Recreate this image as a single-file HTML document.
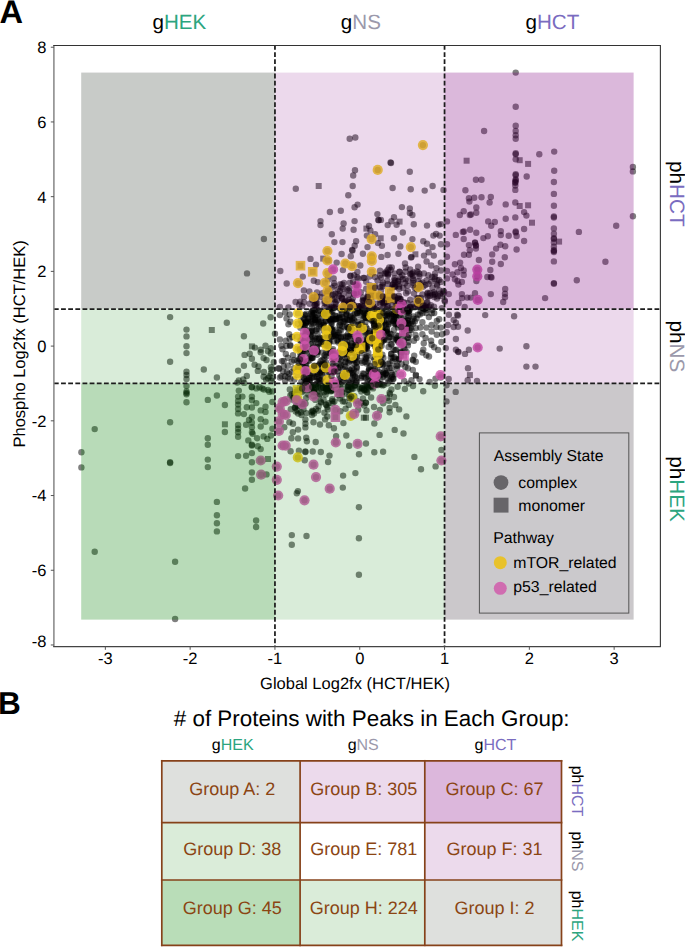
<!DOCTYPE html><html><head><meta charset="utf-8"><style>html,body{margin:0;padding:0;background:#fff;width:685px;height:947px;overflow:hidden}svg{display:block;font-family:"Liberation Sans",sans-serif;text-rendering:geometricPrecision}</style></head><body>
<svg width="685" height="947" viewBox="0 0 685 947">
<g fill="rgba(0,0,0,0.5)">
<circle cx="170.1" cy="317.1" r="3.2"/>
<circle cx="186.5" cy="329.6" r="3.2"/>
<circle cx="186.5" cy="336.4" r="3.2"/>
<circle cx="186.5" cy="346.3" r="3.2"/>
<circle cx="186.5" cy="353.1" r="3.2"/>
<circle cx="170.1" cy="361.7" r="3.2"/>
<circle cx="186.5" cy="371.7" r="3.2"/>
<circle cx="186.5" cy="375.0" r="3.2"/>
<circle cx="186.5" cy="379.0" r="3.2"/>
<circle cx="186.5" cy="386.0" r="3.2"/>
<circle cx="186.5" cy="391.5" r="3.2"/>
<circle cx="186.5" cy="393.0" r="3.2"/>
<circle cx="186.5" cy="394.3" r="3.2"/>
<circle cx="186.5" cy="402.2" r="3.2"/>
<circle cx="170.1" cy="422.3" r="3.2"/>
<circle cx="94.7" cy="429.1" r="3.2"/>
<circle cx="81.4" cy="452.3" r="3.2"/>
<circle cx="81.4" cy="467.4" r="3.2"/>
<circle cx="170.1" cy="462.2" r="3.2"/>
<circle cx="170.1" cy="463.0" r="3.2"/>
<circle cx="94.7" cy="551.8" r="3.2"/>
<circle cx="175.1" cy="561.7" r="3.2"/>
<circle cx="175.1" cy="619.0" r="3.2"/>
<circle cx="263.9" cy="239.0" r="3.2"/>
<circle cx="247.0" cy="273.4" r="3.2"/>
<circle cx="280.3" cy="271.0" r="3.2"/>
<circle cx="286.7" cy="283.5" r="3.2"/>
<circle cx="226.8" cy="322.7" r="3.2"/>
<circle cx="263.2" cy="323.5" r="3.2"/>
<circle cx="270.6" cy="317.2" r="3.2"/>
<circle cx="243.9" cy="336.2" r="3.2"/>
<circle cx="275.0" cy="333.7" r="3.2"/>
<circle cx="254.9" cy="347.6" r="3.2"/>
<circle cx="265.5" cy="345.7" r="3.2"/>
<circle cx="260.7" cy="349.7" r="3.2"/>
<circle cx="260.7" cy="352.2" r="3.2"/>
<circle cx="270.9" cy="348.3" r="3.2"/>
<circle cx="268.0" cy="351.2" r="3.2"/>
<circle cx="270.9" cy="353.4" r="3.2"/>
<circle cx="244.6" cy="354.9" r="3.2"/>
<circle cx="249.7" cy="353.7" r="3.2"/>
<circle cx="251.9" cy="358.8" r="3.2"/>
<circle cx="263.6" cy="358.1" r="3.2"/>
<circle cx="266.5" cy="360.0" r="3.2"/>
<circle cx="273.8" cy="362.2" r="3.2"/>
<circle cx="243.9" cy="365.8" r="3.2"/>
<circle cx="254.6" cy="364.8" r="3.2"/>
<circle cx="258.5" cy="366.5" r="3.2"/>
<circle cx="257.8" cy="370.9" r="3.2"/>
<circle cx="270.9" cy="367.3" r="3.2"/>
<circle cx="238.1" cy="370.6" r="3.2"/>
<circle cx="203.8" cy="369.5" r="3.2"/>
<circle cx="216.9" cy="377.5" r="3.2"/>
<circle cx="246.8" cy="376.0" r="3.2"/>
<circle cx="238.8" cy="380.4" r="3.2"/>
<circle cx="243.2" cy="379.4" r="3.2"/>
<circle cx="263.6" cy="376.8" r="3.2"/>
<circle cx="268.0" cy="378.2" r="3.2"/>
<circle cx="272.4" cy="378.2" r="3.2"/>
<circle cx="270.9" cy="373.1" r="3.2"/>
<circle cx="237.3" cy="382.6" r="3.2"/>
<circle cx="238.8" cy="390.6" r="3.2"/>
<circle cx="251.9" cy="387.0" r="3.2"/>
<circle cx="256.3" cy="388.4" r="3.2"/>
<circle cx="262.2" cy="388.4" r="3.2"/>
<circle cx="268.0" cy="389.9" r="3.2"/>
<circle cx="272.4" cy="391.4" r="3.2"/>
<circle cx="216.9" cy="395.5" r="3.2"/>
<circle cx="207.8" cy="399.9" r="3.2"/>
<circle cx="224.9" cy="405.0" r="3.2"/>
<circle cx="238.1" cy="396.6" r="3.2"/>
<circle cx="238.1" cy="401.0" r="3.2"/>
<circle cx="238.1" cy="404.6" r="3.2"/>
<circle cx="238.1" cy="409.0" r="3.2"/>
<circle cx="238.1" cy="413.4" r="3.2"/>
<circle cx="242.4" cy="396.6" r="3.2"/>
<circle cx="243.9" cy="414.1" r="3.2"/>
<circle cx="246.8" cy="407.2" r="3.2"/>
<circle cx="251.9" cy="396.6" r="3.2"/>
<circle cx="251.9" cy="400.2" r="3.2"/>
<circle cx="251.9" cy="407.5" r="3.2"/>
<circle cx="256.3" cy="403.1" r="3.2"/>
<circle cx="251.9" cy="417.0" r="3.2"/>
<circle cx="249.0" cy="419.9" r="3.2"/>
<circle cx="251.9" cy="422.8" r="3.2"/>
<circle cx="251.9" cy="427.2" r="3.2"/>
<circle cx="251.9" cy="432.3" r="3.2"/>
<circle cx="252.7" cy="433.8" r="3.2"/>
<circle cx="246.1" cy="424.7" r="3.2"/>
<circle cx="260.7" cy="410.4" r="3.2"/>
<circle cx="265.5" cy="406.8" r="3.2"/>
<circle cx="265.5" cy="411.9" r="3.2"/>
<circle cx="260.7" cy="419.2" r="3.2"/>
<circle cx="265.5" cy="421.8" r="3.2"/>
<circle cx="260.7" cy="426.5" r="3.2"/>
<circle cx="272.4" cy="402.0" r="3.2"/>
<circle cx="272.4" cy="428.7" r="3.2"/>
<circle cx="238.1" cy="425.0" r="3.2"/>
<circle cx="238.1" cy="428.7" r="3.2"/>
<circle cx="238.1" cy="432.3" r="3.2"/>
<circle cx="238.1" cy="436.7" r="3.2"/>
<circle cx="224.9" cy="432.0" r="3.2"/>
<circle cx="207.8" cy="438.2" r="3.2"/>
<circle cx="207.8" cy="444.7" r="3.2"/>
<circle cx="207.8" cy="459.6" r="3.2"/>
<circle cx="207.8" cy="467.1" r="3.2"/>
<circle cx="248.3" cy="440.4" r="3.2"/>
<circle cx="251.9" cy="444.7" r="3.2"/>
<circle cx="251.9" cy="445.5" r="3.2"/>
<circle cx="257.0" cy="438.2" r="3.2"/>
<circle cx="263.6" cy="436.4" r="3.2"/>
<circle cx="267.3" cy="438.9" r="3.2"/>
<circle cx="270.9" cy="435.5" r="3.2"/>
<circle cx="257.8" cy="446.2" r="3.2"/>
<circle cx="260.7" cy="449.1" r="3.2"/>
<circle cx="251.9" cy="453.1" r="3.2"/>
<circle cx="238.1" cy="456.1" r="3.2"/>
<circle cx="246.1" cy="455.7" r="3.2"/>
<circle cx="251.9" cy="462.3" r="3.2"/>
<circle cx="251.9" cy="472.5" r="3.2"/>
<circle cx="266.5" cy="474.4" r="3.2"/>
<circle cx="251.9" cy="479.8" r="3.2"/>
<circle cx="245.1" cy="488.5" r="3.2"/>
<circle cx="290.6" cy="451.3" r="3.2"/>
<circle cx="284.3" cy="427.2" r="3.2"/>
<circle cx="291.4" cy="438.2" r="3.2"/>
<circle cx="292.8" cy="432.3" r="3.2"/>
<circle cx="216.9" cy="501.9" r="3.2"/>
<circle cx="216.9" cy="515.2" r="3.2"/>
<circle cx="216.9" cy="523.3" r="3.2"/>
<circle cx="216.9" cy="531.4" r="3.2"/>
<circle cx="256.1" cy="520.5" r="3.2"/>
<circle cx="256.1" cy="527.0" r="3.2"/>
<circle cx="291.8" cy="535.1" r="3.2"/>
<circle cx="306.5" cy="536.0" r="3.2"/>
<circle cx="291.8" cy="544.8" r="3.2"/>
<circle cx="296.8" cy="493.3" r="3.2"/>
<circle cx="297.9" cy="491.1" r="3.2"/>
<circle cx="342.8" cy="487.6" r="3.2"/>
<circle cx="358.9" cy="507.2" r="3.2"/>
<circle cx="358.9" cy="538.3" r="3.2"/>
<circle cx="358.9" cy="574.8" r="3.2"/>
<circle cx="290.8" cy="409.2" r="3.2"/>
<circle cx="298.1" cy="413.6" r="3.2"/>
<circle cx="289.4" cy="422.3" r="3.2"/>
<circle cx="293.0" cy="423.8" r="3.2"/>
<circle cx="298.1" cy="429.6" r="3.2"/>
<circle cx="298.1" cy="438.4" r="3.2"/>
<circle cx="305.4" cy="419.4" r="3.2"/>
<circle cx="305.4" cy="423.8" r="3.2"/>
<circle cx="305.4" cy="427.4" r="3.2"/>
<circle cx="306.2" cy="437.7" r="3.2"/>
<circle cx="306.9" cy="441.3" r="3.2"/>
<circle cx="312.0" cy="415.0" r="3.2"/>
<circle cx="313.5" cy="422.3" r="3.2"/>
<circle cx="320.0" cy="424.5" r="3.2"/>
<circle cx="315.7" cy="442.0" r="3.2"/>
<circle cx="318.6" cy="406.3" r="3.2"/>
<circle cx="324.4" cy="412.8" r="3.2"/>
<circle cx="325.1" cy="419.4" r="3.2"/>
<circle cx="328.8" cy="425.3" r="3.2"/>
<circle cx="333.9" cy="428.2" r="3.2"/>
<circle cx="327.3" cy="416.5" r="3.2"/>
<circle cx="336.1" cy="436.2" r="3.2"/>
<circle cx="343.4" cy="423.1" r="3.2"/>
<circle cx="346.3" cy="435.5" r="3.2"/>
<circle cx="298.9" cy="450.8" r="3.2"/>
<circle cx="305.4" cy="451.5" r="3.2"/>
<circle cx="305.4" cy="452.0" r="3.2"/>
<circle cx="312.7" cy="451.5" r="3.2"/>
<circle cx="320.8" cy="452.0" r="3.2"/>
<circle cx="304.7" cy="460.3" r="3.2"/>
<circle cx="329.5" cy="455.6" r="3.2"/>
<circle cx="328.1" cy="462.0" r="3.2"/>
<circle cx="349.2" cy="445.7" r="3.2"/>
<circle cx="366.0" cy="443.5" r="3.2"/>
<circle cx="359.0" cy="454.2" r="3.2"/>
<circle cx="374.3" cy="452.3" r="3.2"/>
<circle cx="383.1" cy="451.8" r="3.2"/>
<circle cx="379.6" cy="434.9" r="3.2"/>
<circle cx="374.3" cy="423.5" r="3.2"/>
<circle cx="366.5" cy="410.4" r="3.2"/>
<circle cx="366.0" cy="402.6" r="3.2"/>
<circle cx="374.0" cy="407.0" r="3.2"/>
<circle cx="379.9" cy="409.9" r="3.2"/>
<circle cx="371.1" cy="397.5" r="3.2"/>
<circle cx="343.1" cy="475.6" r="3.2"/>
<circle cx="355.4" cy="473.1" r="3.2"/>
<circle cx="411.5" cy="380.2" r="3.2"/>
<circle cx="419.5" cy="379.1" r="3.2"/>
<circle cx="429.7" cy="382.0" r="3.2"/>
<circle cx="404.2" cy="381.0" r="3.2"/>
<circle cx="389.6" cy="381.0" r="3.2"/>
<circle cx="413.0" cy="386.1" r="3.2"/>
<circle cx="404.9" cy="389.0" r="3.2"/>
<circle cx="397.6" cy="386.8" r="3.2"/>
<circle cx="423.2" cy="391.2" r="3.2"/>
<circle cx="434.9" cy="385.8" r="3.2"/>
<circle cx="389.6" cy="392.6" r="3.2"/>
<circle cx="394.0" cy="397.0" r="3.2"/>
<circle cx="388.9" cy="400.7" r="3.2"/>
<circle cx="395.4" cy="405.0" r="3.2"/>
<circle cx="389.6" cy="408.0" r="3.2"/>
<circle cx="399.1" cy="409.4" r="3.2"/>
<circle cx="389.6" cy="412.3" r="3.2"/>
<circle cx="406.4" cy="416.4" r="3.2"/>
<circle cx="394.7" cy="429.9" r="3.2"/>
<circle cx="403.5" cy="433.5" r="3.2"/>
<circle cx="414.4" cy="456.9" r="3.2"/>
<circle cx="441.4" cy="450.0" r="3.2"/>
<circle cx="435.6" cy="466.4" r="3.2"/>
<circle cx="421.0" cy="469.3" r="3.2"/>
<circle cx="446.5" cy="401.4" r="3.2"/>
<circle cx="455.7" cy="391.9" r="3.2"/>
<circle cx="446.5" cy="385.3" r="3.2"/>
<circle cx="448.7" cy="379.0" r="3.2"/>
<circle cx="467.7" cy="380.2" r="3.2"/>
<circle cx="515.7" cy="72.6" r="3.2"/>
<circle cx="515.7" cy="106.8" r="3.2"/>
<circle cx="515.7" cy="125.7" r="3.2"/>
<circle cx="515.7" cy="131.0" r="3.2"/>
<circle cx="515.7" cy="135.3" r="3.2"/>
<circle cx="515.7" cy="138.8" r="3.2"/>
<circle cx="484.1" cy="131.0" r="3.2"/>
<circle cx="515.7" cy="153.2" r="3.2"/>
<circle cx="515.7" cy="154.2" r="3.2"/>
<circle cx="515.7" cy="159.3" r="3.2"/>
<circle cx="539.3" cy="154.3" r="3.2"/>
<circle cx="554.2" cy="151.6" r="3.2"/>
<circle cx="554.2" cy="170.7" r="3.2"/>
<circle cx="526.7" cy="176.5" r="3.2"/>
<circle cx="515.7" cy="174.3" r="3.2"/>
<circle cx="515.7" cy="175.3" r="3.2"/>
<circle cx="515.7" cy="179.5" r="3.2"/>
<circle cx="515.7" cy="180.5" r="3.2"/>
<circle cx="475.9" cy="179.7" r="3.2"/>
<circle cx="481.5" cy="179.7" r="3.2"/>
<circle cx="632.9" cy="166.9" r="3.2"/>
<circle cx="632.9" cy="171.4" r="3.2"/>
<circle cx="515.3" cy="182.0" r="3.2"/>
<circle cx="515.3" cy="182.8" r="3.2"/>
<circle cx="515.3" cy="185.5" r="3.2"/>
<circle cx="515.3" cy="189.9" r="3.2"/>
<circle cx="553.9" cy="182.0" r="3.2"/>
<circle cx="553.9" cy="193.9" r="3.2"/>
<circle cx="553.9" cy="205.7" r="3.2"/>
<circle cx="553.9" cy="216.5" r="3.2"/>
<circle cx="553.9" cy="217.5" r="3.2"/>
<circle cx="553.9" cy="228.4" r="3.2"/>
<circle cx="553.9" cy="233.7" r="3.2"/>
<circle cx="553.9" cy="238.1" r="3.2"/>
<circle cx="553.9" cy="238.9" r="3.2"/>
<circle cx="553.9" cy="242.4" r="3.2"/>
<circle cx="553.9" cy="246.8" r="3.2"/>
<circle cx="553.9" cy="250.3" r="3.2"/>
<circle cx="553.9" cy="251.0" r="3.2"/>
<circle cx="553.9" cy="252.1" r="3.2"/>
<circle cx="553.9" cy="261.4" r="3.2"/>
<circle cx="553.9" cy="283.1" r="3.2"/>
<circle cx="553.9" cy="283.8" r="3.2"/>
<circle cx="465.4" cy="190.2" r="3.2"/>
<circle cx="443.5" cy="189.9" r="3.2"/>
<circle cx="468.9" cy="198.3" r="3.2"/>
<circle cx="474.2" cy="197.8" r="3.2"/>
<circle cx="469.4" cy="201.6" r="3.2"/>
<circle cx="481.5" cy="197.2" r="3.2"/>
<circle cx="490.8" cy="196.9" r="3.2"/>
<circle cx="489.6" cy="202.5" r="3.2"/>
<circle cx="476.3" cy="207.4" r="3.2"/>
<circle cx="476.3" cy="212.7" r="3.2"/>
<circle cx="463.7" cy="211.3" r="3.2"/>
<circle cx="459.8" cy="215.0" r="3.2"/>
<circle cx="469.8" cy="215.0" r="3.2"/>
<circle cx="471.0" cy="214.5" r="3.2"/>
<circle cx="505.7" cy="204.4" r="3.2"/>
<circle cx="515.3" cy="202.5" r="3.2"/>
<circle cx="524.1" cy="212.1" r="3.2"/>
<circle cx="526.4" cy="215.6" r="3.2"/>
<circle cx="515.3" cy="217.4" r="3.2"/>
<circle cx="505.7" cy="218.8" r="3.2"/>
<circle cx="488.2" cy="221.4" r="3.2"/>
<circle cx="494.8" cy="222.0" r="3.2"/>
<circle cx="491.2" cy="225.8" r="3.2"/>
<circle cx="447.0" cy="221.4" r="3.2"/>
<circle cx="440.9" cy="224.1" r="3.2"/>
<circle cx="455.8" cy="234.9" r="3.2"/>
<circle cx="462.8" cy="231.9" r="3.2"/>
<circle cx="464.0" cy="231.5" r="3.2"/>
<circle cx="470.1" cy="229.7" r="3.2"/>
<circle cx="476.3" cy="232.8" r="3.2"/>
<circle cx="463.7" cy="239.0" r="3.2"/>
<circle cx="483.4" cy="238.1" r="3.2"/>
<circle cx="487.8" cy="236.3" r="3.2"/>
<circle cx="500.8" cy="231.1" r="3.2"/>
<circle cx="500.8" cy="235.1" r="3.2"/>
<circle cx="508.7" cy="235.8" r="3.2"/>
<circle cx="515.7" cy="231.4" r="3.2"/>
<circle cx="515.7" cy="232.4" r="3.2"/>
<circle cx="516.6" cy="236.0" r="3.2"/>
<circle cx="524.1" cy="229.0" r="3.2"/>
<circle cx="524.1" cy="241.0" r="3.2"/>
<circle cx="475.0" cy="242.4" r="3.2"/>
<circle cx="475.0" cy="243.0" r="3.2"/>
<circle cx="475.9" cy="245.1" r="3.2"/>
<circle cx="475.9" cy="245.8" r="3.2"/>
<circle cx="475.9" cy="248.6" r="3.2"/>
<circle cx="468.9" cy="245.1" r="3.2"/>
<circle cx="469.8" cy="250.3" r="3.2"/>
<circle cx="464.0" cy="254.7" r="3.2"/>
<circle cx="468.9" cy="254.7" r="3.2"/>
<circle cx="447.0" cy="244.2" r="3.2"/>
<circle cx="440.9" cy="244.2" r="3.2"/>
<circle cx="447.0" cy="256.8" r="3.2"/>
<circle cx="440.9" cy="262.6" r="3.2"/>
<circle cx="496.1" cy="248.6" r="3.2"/>
<circle cx="500.4" cy="244.7" r="3.2"/>
<circle cx="505.2" cy="246.3" r="3.2"/>
<circle cx="492.2" cy="254.4" r="3.2"/>
<circle cx="504.8" cy="257.3" r="3.2"/>
<circle cx="516.6" cy="249.5" r="3.2"/>
<circle cx="492.2" cy="261.7" r="3.2"/>
<circle cx="500.8" cy="264.0" r="3.2"/>
<circle cx="478.9" cy="260.0" r="3.2"/>
<circle cx="454.9" cy="264.3" r="3.2"/>
<circle cx="460.1" cy="262.6" r="3.2"/>
<circle cx="461.0" cy="267.9" r="3.2"/>
<circle cx="463.7" cy="270.5" r="3.2"/>
<circle cx="457.5" cy="272.2" r="3.2"/>
<circle cx="452.6" cy="274.5" r="3.2"/>
<circle cx="447.0" cy="271.0" r="3.2"/>
<circle cx="440.9" cy="270.5" r="3.2"/>
<circle cx="463.7" cy="274.9" r="3.2"/>
<circle cx="454.9" cy="279.2" r="3.2"/>
<circle cx="457.5" cy="281.0" r="3.2"/>
<circle cx="461.9" cy="281.9" r="3.2"/>
<circle cx="458.4" cy="284.5" r="3.2"/>
<circle cx="447.0" cy="278.4" r="3.2"/>
<circle cx="440.9" cy="281.9" r="3.2"/>
<circle cx="490.3" cy="270.0" r="3.2"/>
<circle cx="487.3" cy="277.0" r="3.2"/>
<circle cx="490.8" cy="277.0" r="3.2"/>
<circle cx="491.5" cy="277.5" r="3.2"/>
<circle cx="476.4" cy="281.0" r="3.2"/>
<circle cx="505.2" cy="288.9" r="3.2"/>
<circle cx="475.0" cy="293.3" r="3.2"/>
<circle cx="490.8" cy="294.1" r="3.2"/>
<circle cx="448.8" cy="294.1" r="3.2"/>
<circle cx="461.9" cy="294.1" r="3.2"/>
<circle cx="578.9" cy="231.9" r="3.2"/>
<circle cx="616.2" cy="225.8" r="3.2"/>
<circle cx="632.9" cy="216.3" r="3.2"/>
<circle cx="605.4" cy="261.7" r="3.2"/>
<circle cx="576.8" cy="280.3" r="3.2"/>
<circle cx="462.1" cy="298.1" r="3.2"/>
<circle cx="467.3" cy="297.6" r="3.2"/>
<circle cx="470.8" cy="297.6" r="3.2"/>
<circle cx="458.6" cy="303.0" r="3.2"/>
<circle cx="464.7" cy="306.9" r="3.2"/>
<circle cx="505.0" cy="293.8" r="3.2"/>
<circle cx="505.0" cy="297.3" r="3.2"/>
<circle cx="503.2" cy="302.0" r="3.2"/>
<circle cx="545.1" cy="298.1" r="3.2"/>
<circle cx="485.2" cy="315.1" r="3.2"/>
<circle cx="514.1" cy="316.2" r="3.2"/>
<circle cx="457.2" cy="314.8" r="3.2"/>
<circle cx="458.0" cy="315.5" r="3.2"/>
<circle cx="448.9" cy="314.8" r="3.2"/>
<circle cx="453.7" cy="320.0" r="3.2"/>
<circle cx="455.9" cy="322.7" r="3.2"/>
<circle cx="458.0" cy="326.7" r="3.2"/>
<circle cx="453.7" cy="327.0" r="3.2"/>
<circle cx="448.0" cy="325.0" r="3.2"/>
<circle cx="446.6" cy="332.3" r="3.2"/>
<circle cx="467.7" cy="330.5" r="3.2"/>
<circle cx="455.9" cy="339.0" r="3.2"/>
<circle cx="445.8" cy="348.1" r="3.2"/>
<circle cx="455.9" cy="349.8" r="3.2"/>
<circle cx="458.0" cy="351.6" r="3.2"/>
<circle cx="458.5" cy="352.0" r="3.2"/>
<circle cx="465.0" cy="353.9" r="3.2"/>
<circle cx="468.9" cy="349.8" r="3.2"/>
<circle cx="499.7" cy="348.6" r="3.2"/>
<circle cx="526.4" cy="346.3" r="3.2"/>
<circle cx="526.4" cy="366.6" r="3.2"/>
<circle cx="535.5" cy="366.6" r="3.2"/>
<circle cx="468.0" cy="368.2" r="3.2"/>
<circle cx="477.0" cy="381.0" r="3.2"/>
<circle cx="349.7" cy="138.7" r="3.2"/>
<circle cx="355.3" cy="137.5" r="3.2"/>
<circle cx="390.5" cy="162.5" r="3.2"/>
<circle cx="391.0" cy="163.0" r="3.2"/>
<circle cx="355.0" cy="170.3" r="3.2"/>
<circle cx="353.2" cy="175.5" r="3.2"/>
<circle cx="352.7" cy="186.0" r="3.2"/>
<circle cx="295.8" cy="188.7" r="3.2"/>
<circle cx="348.3" cy="195.3" r="3.2"/>
<circle cx="357.6" cy="204.6" r="3.2"/>
<circle cx="354.6" cy="207.2" r="3.2"/>
<circle cx="329.9" cy="212.0" r="3.2"/>
<circle cx="340.8" cy="210.7" r="3.2"/>
<circle cx="377.4" cy="214.1" r="3.2"/>
<circle cx="378.3" cy="219.9" r="3.2"/>
<circle cx="378.8" cy="220.3" r="3.2"/>
<circle cx="387.7" cy="225.1" r="3.2"/>
<circle cx="320.5" cy="221.1" r="3.2"/>
<circle cx="320.5" cy="225.1" r="3.2"/>
<circle cx="343.6" cy="223.4" r="3.2"/>
<circle cx="342.7" cy="228.6" r="3.2"/>
<circle cx="354.6" cy="221.1" r="3.2"/>
<circle cx="353.6" cy="229.8" r="3.2"/>
<circle cx="369.0" cy="226.0" r="3.2"/>
<circle cx="370.4" cy="230.4" r="3.2"/>
<circle cx="375.1" cy="234.2" r="3.2"/>
<circle cx="366.9" cy="235.6" r="3.2"/>
<circle cx="331.8" cy="234.2" r="3.2"/>
<circle cx="409.8" cy="171.7" r="3.2"/>
<circle cx="392.6" cy="188.0" r="3.2"/>
<circle cx="410.7" cy="189.2" r="3.2"/>
<circle cx="424.7" cy="190.6" r="3.2"/>
<circle cx="432.6" cy="186.0" r="3.2"/>
<circle cx="401.9" cy="207.1" r="3.2"/>
<circle cx="409.8" cy="208.5" r="3.2"/>
<circle cx="409.8" cy="212.9" r="3.2"/>
<circle cx="412.4" cy="215.0" r="3.2"/>
<circle cx="394.0" cy="217.2" r="3.2"/>
<circle cx="391.4" cy="221.3" r="3.2"/>
<circle cx="396.6" cy="224.8" r="3.2"/>
<circle cx="380.9" cy="219.9" r="3.2"/>
<circle cx="413.8" cy="224.2" r="3.2"/>
<circle cx="427.0" cy="225.6" r="3.2"/>
<circle cx="438.7" cy="224.6" r="3.2"/>
<circle cx="402.8" cy="232.5" r="3.2"/>
<circle cx="394.0" cy="238.3" r="3.2"/>
<circle cx="412.4" cy="239.1" r="3.2"/>
<circle cx="433.4" cy="235.6" r="3.2"/>
<circle cx="436.1" cy="233.9" r="3.2"/>
<circle cx="439.6" cy="235.6" r="3.2"/>
<circle cx="334.4" cy="242.1" r="3.2"/>
<circle cx="342.5" cy="242.1" r="3.2"/>
<circle cx="356.1" cy="241.2" r="3.2"/>
<circle cx="354.7" cy="245.8" r="3.2"/>
<circle cx="352.1" cy="250.0" r="3.2"/>
<circle cx="352.5" cy="250.5" r="3.2"/>
<circle cx="341.6" cy="254.0" r="3.2"/>
<circle cx="350.8" cy="256.3" r="3.2"/>
<circle cx="310.5" cy="258.9" r="3.2"/>
<circle cx="316.0" cy="264.6" r="3.2"/>
<circle cx="336.7" cy="262.6" r="3.2"/>
<circle cx="342.9" cy="270.1" r="3.2"/>
<circle cx="302.8" cy="276.6" r="3.2"/>
<circle cx="313.8" cy="280.8" r="3.2"/>
<circle cx="333.7" cy="278.4" r="3.2"/>
<circle cx="334.1" cy="283.2" r="3.2"/>
<circle cx="342.3" cy="284.5" r="3.2"/>
<circle cx="349.9" cy="282.6" r="3.2"/>
<circle cx="354.1" cy="275.3" r="3.2"/>
<circle cx="357.4" cy="272.0" r="3.2"/>
<circle cx="303.9" cy="290.4" r="3.2"/>
<circle cx="309.4" cy="291.5" r="3.2"/>
<circle cx="317.0" cy="292.4" r="3.2"/>
<circle cx="337.7" cy="289.5" r="3.2"/>
<circle cx="331.8" cy="287.8" r="3.2"/>
<circle cx="335.4" cy="293.7" r="3.2"/>
<circle cx="342.3" cy="298.3" r="3.2"/>
<circle cx="348.8" cy="295.0" r="3.2"/>
<circle cx="348.8" cy="299.6" r="3.2"/>
<circle cx="320.6" cy="297.0" r="3.2"/>
<circle cx="295.6" cy="302.0" r="3.2"/>
<circle cx="300.2" cy="301.6" r="3.2"/>
<circle cx="302.2" cy="306.2" r="3.2"/>
<circle cx="279.9" cy="306.9" r="3.2"/>
<circle cx="288.4" cy="307.5" r="3.2"/>
<circle cx="317.3" cy="302.9" r="3.2"/>
<circle cx="334.4" cy="299.6" r="3.2"/>
<circle cx="352.8" cy="298.3" r="3.2"/>
<circle cx="378.0" cy="243.1" r="3.2"/>
<circle cx="381.9" cy="245.8" r="3.2"/>
<circle cx="400.3" cy="246.4" r="3.2"/>
<circle cx="367.5" cy="247.1" r="3.2"/>
<circle cx="423.3" cy="241.2" r="3.2"/>
<circle cx="427.0" cy="243.8" r="3.2"/>
<circle cx="432.5" cy="247.1" r="3.2"/>
<circle cx="362.9" cy="253.7" r="3.2"/>
<circle cx="381.3" cy="256.9" r="3.2"/>
<circle cx="387.6" cy="255.0" r="3.2"/>
<circle cx="398.4" cy="253.7" r="3.2"/>
<circle cx="411.5" cy="256.9" r="3.2"/>
<circle cx="411.0" cy="257.5" r="3.2"/>
<circle cx="424.0" cy="255.6" r="3.2"/>
<circle cx="428.6" cy="252.3" r="3.2"/>
<circle cx="433.8" cy="255.6" r="3.2"/>
<circle cx="426.6" cy="261.5" r="3.2"/>
<circle cx="431.2" cy="265.5" r="3.2"/>
<circle cx="436.5" cy="268.1" r="3.2"/>
<circle cx="405.0" cy="263.5" r="3.2"/>
<circle cx="418.1" cy="266.8" r="3.2"/>
<circle cx="419.4" cy="274.0" r="3.2"/>
<circle cx="410.2" cy="269.4" r="3.2"/>
<circle cx="360.3" cy="265.5" r="3.2"/>
<circle cx="389.2" cy="267.4" r="3.2"/>
<circle cx="391.8" cy="267.4" r="3.2"/>
<circle cx="380.0" cy="270.7" r="3.2"/>
<circle cx="380.0" cy="275.3" r="3.2"/>
<circle cx="387.8" cy="275.3" r="3.2"/>
<circle cx="394.4" cy="273.4" r="3.2"/>
<circle cx="399.7" cy="272.0" r="3.2"/>
<circle cx="402.3" cy="275.3" r="3.2"/>
<circle cx="405.6" cy="279.3" r="3.2"/>
<circle cx="412.8" cy="278.6" r="3.2"/>
<circle cx="435.1" cy="273.4" r="3.2"/>
<circle cx="439.1" cy="279.9" r="3.2"/>
<circle cx="428.6" cy="283.9" r="3.2"/>
<circle cx="432.5" cy="287.8" r="3.2"/>
<circle cx="279.9" cy="315.1" r="3.2"/>
<circle cx="285.1" cy="312.5" r="3.2"/>
<circle cx="289.7" cy="314.5" r="3.2"/>
<circle cx="286.5" cy="318.4" r="3.2"/>
<circle cx="290.4" cy="321.7" r="3.2"/>
<circle cx="288.4" cy="324.3" r="3.2"/>
<circle cx="306.2" cy="313.8" r="3.2"/>
<circle cx="311.4" cy="313.8" r="3.2"/>
<circle cx="308.8" cy="318.4" r="3.2"/>
<circle cx="279.9" cy="339.4" r="3.2"/>
<circle cx="285.8" cy="340.7" r="3.2"/>
<circle cx="289.1" cy="334.2" r="3.2"/>
<circle cx="289.7" cy="338.8" r="3.2"/>
<circle cx="282.5" cy="349.3" r="3.2"/>
<circle cx="286.5" cy="346.0" r="3.2"/>
<circle cx="290.4" cy="345.3" r="3.2"/>
<circle cx="285.8" cy="353.9" r="3.2"/>
<circle cx="287.8" cy="357.8" r="3.2"/>
<circle cx="281.9" cy="361.1" r="3.2"/>
<circle cx="278.6" cy="368.3" r="3.2"/>
<circle cx="283.8" cy="366.4" r="3.2"/>
<circle cx="287.8" cy="365.7" r="3.2"/>
<circle cx="283.2" cy="371.6" r="3.2"/>
<circle cx="279.9" cy="377.5" r="3.2"/>
<circle cx="285.1" cy="376.2" r="3.2"/>
<circle cx="289.1" cy="373.6" r="3.2"/>
<circle cx="290.4" cy="378.8" r="3.2"/>
<circle cx="285.1" cy="380.8" r="3.2"/>
<circle cx="291.7" cy="361.8" r="3.2"/>
<circle cx="293.0" cy="355.2" r="3.2"/>
<circle cx="293.7" cy="368.3" r="3.2"/>
<circle cx="294.3" cy="379.5" r="3.2"/>
<circle cx="303.5" cy="317.7" r="3.2"/>
<circle cx="302.2" cy="323.7" r="3.2"/>
<circle cx="304.8" cy="325.6" r="3.2"/>
<circle cx="428.9" cy="317.1" r="3.2"/>
<circle cx="434.2" cy="313.1" r="3.2"/>
<circle cx="436.8" cy="321.0" r="3.2"/>
<circle cx="431.6" cy="325.0" r="3.2"/>
<circle cx="440.8" cy="327.6" r="3.2"/>
<circle cx="442.1" cy="334.2" r="3.2"/>
<circle cx="436.8" cy="334.8" r="3.2"/>
<circle cx="431.6" cy="331.5" r="3.2"/>
<circle cx="426.3" cy="327.6" r="3.2"/>
<circle cx="422.4" cy="322.3" r="3.2"/>
<circle cx="426.3" cy="313.1" r="3.2"/>
<circle cx="419.8" cy="314.5" r="3.2"/>
<circle cx="422.4" cy="334.2" r="3.2"/>
<circle cx="416.5" cy="338.1" r="3.2"/>
<circle cx="431.6" cy="344.7" r="3.2"/>
<circle cx="434.2" cy="347.3" r="3.2"/>
<circle cx="438.1" cy="349.9" r="3.2"/>
<circle cx="441.4" cy="342.0" r="3.2"/>
<circle cx="422.4" cy="352.6" r="3.2"/>
<circle cx="426.3" cy="355.2" r="3.2"/>
<circle cx="429.0" cy="356.5" r="3.2"/>
<circle cx="413.2" cy="360.4" r="3.2"/>
<circle cx="415.8" cy="361.8" r="3.2"/>
<circle cx="405.3" cy="367.0" r="3.2"/>
<circle cx="407.9" cy="368.3" r="3.2"/>
<circle cx="415.8" cy="374.9" r="3.2"/>
<circle cx="435.5" cy="378.8" r="3.2"/>
<circle cx="440.8" cy="377.5" r="3.2"/>
<circle cx="393.5" cy="378.8" r="3.2"/>
<circle cx="386.9" cy="374.9" r="3.2"/>
<circle cx="389.5" cy="368.3" r="3.2"/>
<circle cx="397.4" cy="365.7" r="3.2"/>
<circle cx="263.9" cy="372.0" r="3.2"/>
<circle cx="269.3" cy="376.3" r="3.2"/>
<circle cx="271.5" cy="369.8" r="3.2"/>
<circle cx="266.0" cy="379.6" r="3.2"/>
<circle cx="271.5" cy="380.7" r="3.2"/>
<circle cx="244.2" cy="382.9" r="3.2"/>
<circle cx="251.8" cy="387.3" r="3.2"/>
<circle cx="259.5" cy="387.3" r="3.2"/>
<circle cx="263.9" cy="389.5" r="3.2"/>
<circle cx="269.3" cy="391.7" r="3.2"/>
<circle cx="292.3" cy="336.9" r="3.2"/>
<circle cx="290.1" cy="345.7" r="3.2"/>
<circle cx="281.4" cy="345.7" r="3.2"/>
<circle cx="283.6" cy="361.0" r="3.2"/>
<circle cx="279.2" cy="368.7" r="3.2"/>
<circle cx="286.9" cy="372.0" r="3.2"/>
<circle cx="281.4" cy="376.3" r="3.2"/>
<circle cx="288.0" cy="377.4" r="3.2"/>
<circle cx="294.0" cy="360.0" r="3.2"/>
<circle cx="292.0" cy="372.0" r="3.2"/>
<circle cx="341.4" cy="309.9" r="3.2"/>
<circle cx="385.2" cy="302.2" r="3.2"/>
<circle cx="369.8" cy="331.2" r="3.2"/>
<circle cx="305.8" cy="345.2" r="3.2"/>
<circle cx="303.0" cy="337.9" r="3.2"/>
<circle cx="375.3" cy="334.3" r="3.2"/>
<circle cx="413.0" cy="323.7" r="3.2"/>
<circle cx="339.3" cy="375.8" r="3.2"/>
<circle cx="322.2" cy="352.6" r="3.2"/>
<circle cx="383.6" cy="331.9" r="3.2"/>
<circle cx="371.4" cy="301.2" r="3.2"/>
<circle cx="306.0" cy="315.4" r="3.2"/>
<circle cx="389.2" cy="337.3" r="3.2"/>
<circle cx="340.1" cy="353.0" r="3.2"/>
<circle cx="358.7" cy="324.7" r="3.2"/>
<circle cx="330.7" cy="351.9" r="3.2"/>
<circle cx="368.4" cy="381.6" r="3.2"/>
<circle cx="395.7" cy="323.5" r="3.2"/>
<circle cx="429.3" cy="306.7" r="3.2"/>
<circle cx="318.4" cy="343.4" r="3.2"/>
<circle cx="303.3" cy="361.2" r="3.2"/>
<circle cx="400.5" cy="351.7" r="3.2"/>
<circle cx="375.7" cy="340.2" r="3.2"/>
<circle cx="361.5" cy="360.8" r="3.2"/>
<circle cx="306.1" cy="364.4" r="3.2"/>
<circle cx="408.1" cy="323.2" r="3.2"/>
<circle cx="349.7" cy="361.2" r="3.2"/>
<circle cx="301.0" cy="340.7" r="3.2"/>
<circle cx="305.9" cy="371.1" r="3.2"/>
<circle cx="315.3" cy="319.5" r="3.2"/>
<circle cx="350.4" cy="381.3" r="3.2"/>
<circle cx="308.8" cy="339.5" r="3.2"/>
<circle cx="371.6" cy="382.5" r="3.2"/>
<circle cx="346.1" cy="382.5" r="3.2"/>
<circle cx="426.3" cy="309.9" r="3.2"/>
<circle cx="321.6" cy="318.0" r="3.2"/>
<circle cx="329.3" cy="343.0" r="3.2"/>
<circle cx="376.9" cy="321.0" r="3.2"/>
<circle cx="347.5" cy="351.1" r="3.2"/>
<circle cx="367.1" cy="356.1" r="3.2"/>
<circle cx="388.6" cy="300.3" r="3.2"/>
<circle cx="350.6" cy="334.5" r="3.2"/>
<circle cx="311.9" cy="357.8" r="3.2"/>
<circle cx="326.0" cy="311.1" r="3.2"/>
<circle cx="311.6" cy="331.0" r="3.2"/>
<circle cx="301.4" cy="381.6" r="3.2"/>
<circle cx="380.3" cy="309.7" r="3.2"/>
<circle cx="331.8" cy="329.4" r="3.2"/>
<circle cx="346.8" cy="307.2" r="3.2"/>
<circle cx="360.4" cy="342.9" r="3.2"/>
<circle cx="343.9" cy="321.2" r="3.2"/>
<circle cx="409.1" cy="311.0" r="3.2"/>
<circle cx="368.8" cy="309.5" r="3.2"/>
<circle cx="370.8" cy="297.7" r="3.2"/>
<circle cx="333.0" cy="331.3" r="3.2"/>
<circle cx="320.4" cy="371.4" r="3.2"/>
<circle cx="369.4" cy="372.1" r="3.2"/>
<circle cx="342.2" cy="317.1" r="3.2"/>
<circle cx="328.4" cy="346.2" r="3.2"/>
<circle cx="301.7" cy="322.7" r="3.2"/>
<circle cx="327.5" cy="317.5" r="3.2"/>
<circle cx="324.4" cy="315.2" r="3.2"/>
<circle cx="385.5" cy="374.2" r="3.2"/>
<circle cx="309.4" cy="360.4" r="3.2"/>
<circle cx="398.5" cy="342.3" r="3.2"/>
<circle cx="321.9" cy="373.1" r="3.2"/>
<circle cx="342.6" cy="374.3" r="3.2"/>
<circle cx="351.8" cy="388.7" r="3.2"/>
<circle cx="315.0" cy="310.0" r="3.2"/>
<circle cx="345.0" cy="349.3" r="3.2"/>
<circle cx="368.6" cy="387.4" r="3.2"/>
<circle cx="356.1" cy="381.3" r="3.2"/>
<circle cx="408.7" cy="315.9" r="3.2"/>
<circle cx="331.7" cy="324.0" r="3.2"/>
<circle cx="330.2" cy="353.1" r="3.2"/>
<circle cx="332.8" cy="336.5" r="3.2"/>
<circle cx="345.4" cy="340.4" r="3.2"/>
<circle cx="354.4" cy="385.9" r="3.2"/>
<circle cx="365.2" cy="347.7" r="3.2"/>
<circle cx="368.1" cy="296.9" r="3.2"/>
<circle cx="357.0" cy="313.1" r="3.2"/>
<circle cx="395.2" cy="350.1" r="3.2"/>
<circle cx="341.7" cy="346.3" r="3.2"/>
<circle cx="372.4" cy="372.6" r="3.2"/>
<circle cx="312.2" cy="350.5" r="3.2"/>
<circle cx="331.3" cy="322.4" r="3.2"/>
<circle cx="401.5" cy="345.3" r="3.2"/>
<circle cx="373.3" cy="370.2" r="3.2"/>
<circle cx="380.1" cy="345.0" r="3.2"/>
<circle cx="366.6" cy="363.6" r="3.2"/>
<circle cx="358.6" cy="347.8" r="3.2"/>
<circle cx="362.1" cy="388.2" r="3.2"/>
<circle cx="373.0" cy="388.4" r="3.2"/>
<circle cx="410.6" cy="308.6" r="3.2"/>
<circle cx="314.3" cy="338.8" r="3.2"/>
<circle cx="307.7" cy="318.8" r="3.2"/>
<circle cx="307.8" cy="361.3" r="3.2"/>
<circle cx="318.7" cy="365.9" r="3.2"/>
<circle cx="386.5" cy="309.2" r="3.2"/>
<circle cx="327.4" cy="389.3" r="3.2"/>
<circle cx="351.4" cy="343.2" r="3.2"/>
<circle cx="367.1" cy="328.6" r="3.2"/>
<circle cx="324.2" cy="326.5" r="3.2"/>
<circle cx="372.2" cy="338.6" r="3.2"/>
<circle cx="300.4" cy="327.8" r="3.2"/>
<circle cx="312.0" cy="321.3" r="3.2"/>
<circle cx="303.3" cy="372.1" r="3.2"/>
<circle cx="334.2" cy="307.8" r="3.2"/>
<circle cx="354.6" cy="385.2" r="3.2"/>
<circle cx="407.7" cy="320.6" r="3.2"/>
<circle cx="318.0" cy="386.0" r="3.2"/>
<circle cx="307.7" cy="387.9" r="3.2"/>
<circle cx="383.0" cy="374.4" r="3.2"/>
<circle cx="309.2" cy="379.8" r="3.2"/>
<circle cx="306.9" cy="380.4" r="3.2"/>
<circle cx="358.8" cy="328.6" r="3.2"/>
<circle cx="372.1" cy="386.7" r="3.2"/>
<circle cx="333.9" cy="307.8" r="3.2"/>
<circle cx="368.6" cy="318.6" r="3.2"/>
<circle cx="312.7" cy="311.0" r="3.2"/>
<circle cx="304.8" cy="315.0" r="3.2"/>
<circle cx="339.8" cy="325.2" r="3.2"/>
<circle cx="399.8" cy="323.7" r="3.2"/>
<circle cx="365.0" cy="312.6" r="3.2"/>
<circle cx="323.4" cy="342.0" r="3.2"/>
<circle cx="423.2" cy="305.5" r="3.2"/>
<circle cx="407.7" cy="337.8" r="3.2"/>
<circle cx="364.3" cy="377.6" r="3.2"/>
<circle cx="350.7" cy="345.2" r="3.2"/>
<circle cx="343.9" cy="377.4" r="3.2"/>
<circle cx="392.7" cy="358.0" r="3.2"/>
<circle cx="352.2" cy="329.4" r="3.2"/>
<circle cx="307.5" cy="368.3" r="3.2"/>
<circle cx="309.3" cy="378.3" r="3.2"/>
<circle cx="335.8" cy="319.0" r="3.2"/>
<circle cx="337.3" cy="340.5" r="3.2"/>
<circle cx="319.1" cy="339.1" r="3.2"/>
<circle cx="333.3" cy="390.2" r="3.2"/>
<circle cx="330.8" cy="390.6" r="3.2"/>
<circle cx="339.5" cy="330.3" r="3.2"/>
<circle cx="361.6" cy="344.8" r="3.2"/>
<circle cx="324.9" cy="345.0" r="3.2"/>
<circle cx="310.0" cy="334.6" r="3.2"/>
<circle cx="338.8" cy="318.0" r="3.2"/>
<circle cx="376.5" cy="347.4" r="3.2"/>
<circle cx="398.6" cy="360.1" r="3.2"/>
<circle cx="350.2" cy="327.3" r="3.2"/>
<circle cx="395.0" cy="358.7" r="3.2"/>
<circle cx="303.9" cy="377.7" r="3.2"/>
<circle cx="316.7" cy="346.9" r="3.2"/>
<circle cx="365.6" cy="377.7" r="3.2"/>
<circle cx="376.3" cy="383.4" r="3.2"/>
<circle cx="389.5" cy="363.6" r="3.2"/>
<circle cx="315.8" cy="330.7" r="3.2"/>
<circle cx="312.1" cy="377.7" r="3.2"/>
<circle cx="372.8" cy="357.1" r="3.2"/>
<circle cx="381.9" cy="362.4" r="3.2"/>
<circle cx="365.4" cy="348.0" r="3.2"/>
<circle cx="386.3" cy="301.5" r="3.2"/>
<circle cx="396.7" cy="320.0" r="3.2"/>
<circle cx="308.0" cy="321.3" r="3.2"/>
<circle cx="395.7" cy="315.3" r="3.2"/>
<circle cx="364.2" cy="332.9" r="3.2"/>
<circle cx="362.2" cy="362.7" r="3.2"/>
<circle cx="400.8" cy="356.1" r="3.2"/>
<circle cx="317.8" cy="320.1" r="3.2"/>
<circle cx="397.6" cy="325.1" r="3.2"/>
<circle cx="374.1" cy="296.2" r="3.2"/>
<circle cx="306.1" cy="321.6" r="3.2"/>
<circle cx="388.0" cy="363.5" r="3.2"/>
<circle cx="388.5" cy="323.8" r="3.2"/>
<circle cx="367.2" cy="341.0" r="3.2"/>
<circle cx="360.5" cy="306.7" r="3.2"/>
<circle cx="417.8" cy="314.7" r="3.2"/>
<circle cx="300.3" cy="340.4" r="3.2"/>
<circle cx="358.2" cy="321.6" r="3.2"/>
<circle cx="326.1" cy="388.6" r="3.2"/>
<circle cx="326.2" cy="352.6" r="3.2"/>
<circle cx="317.0" cy="346.9" r="3.2"/>
<circle cx="407.9" cy="345.4" r="3.2"/>
<circle cx="329.0" cy="383.9" r="3.2"/>
<circle cx="363.1" cy="297.5" r="3.2"/>
<circle cx="316.9" cy="329.1" r="3.2"/>
<circle cx="340.4" cy="378.2" r="3.2"/>
<circle cx="298.2" cy="369.3" r="3.2"/>
<circle cx="410.4" cy="306.9" r="3.2"/>
<circle cx="347.9" cy="333.9" r="3.2"/>
<circle cx="346.3" cy="337.4" r="3.2"/>
<circle cx="336.3" cy="387.6" r="3.2"/>
<circle cx="331.4" cy="321.3" r="3.2"/>
<circle cx="366.5" cy="313.8" r="3.2"/>
<circle cx="348.0" cy="389.7" r="3.2"/>
<circle cx="382.5" cy="385.4" r="3.2"/>
<circle cx="394.4" cy="299.9" r="3.2"/>
<circle cx="396.1" cy="339.6" r="3.2"/>
<circle cx="398.9" cy="358.8" r="3.2"/>
<circle cx="422.2" cy="307.6" r="3.2"/>
<circle cx="361.3" cy="329.0" r="3.2"/>
<circle cx="337.9" cy="368.2" r="3.2"/>
<circle cx="385.9" cy="324.8" r="3.2"/>
<circle cx="372.7" cy="334.0" r="3.2"/>
<circle cx="320.4" cy="311.0" r="3.2"/>
<circle cx="325.9" cy="384.7" r="3.2"/>
<circle cx="364.6" cy="316.8" r="3.2"/>
<circle cx="358.3" cy="308.8" r="3.2"/>
<circle cx="343.8" cy="304.0" r="3.2"/>
<circle cx="330.0" cy="320.6" r="3.2"/>
<circle cx="374.3" cy="382.8" r="3.2"/>
<circle cx="398.5" cy="335.9" r="3.2"/>
<circle cx="353.5" cy="346.9" r="3.2"/>
<circle cx="306.3" cy="322.5" r="3.2"/>
<circle cx="427.7" cy="307.5" r="3.2"/>
<circle cx="413.6" cy="316.4" r="3.2"/>
<circle cx="334.3" cy="319.6" r="3.2"/>
<circle cx="351.6" cy="339.1" r="3.2"/>
<circle cx="302.3" cy="365.2" r="3.2"/>
<circle cx="350.5" cy="386.8" r="3.2"/>
<circle cx="312.6" cy="310.3" r="3.2"/>
<circle cx="359.3" cy="349.6" r="3.2"/>
<circle cx="303.3" cy="372.4" r="3.2"/>
<circle cx="384.5" cy="325.1" r="3.2"/>
<circle cx="315.1" cy="319.9" r="3.2"/>
<circle cx="368.3" cy="352.7" r="3.2"/>
<circle cx="350.0" cy="317.1" r="3.2"/>
<circle cx="378.5" cy="296.0" r="3.2"/>
<circle cx="338.4" cy="340.6" r="3.2"/>
<circle cx="329.5" cy="319.5" r="3.2"/>
<circle cx="364.8" cy="361.8" r="3.2"/>
<circle cx="354.3" cy="320.5" r="3.2"/>
<circle cx="343.3" cy="336.6" r="3.2"/>
<circle cx="389.5" cy="314.6" r="3.2"/>
<circle cx="365.7" cy="315.3" r="3.2"/>
<circle cx="407.9" cy="317.9" r="3.2"/>
<circle cx="327.7" cy="370.3" r="3.2"/>
<circle cx="337.5" cy="389.2" r="3.2"/>
<circle cx="327.9" cy="336.3" r="3.2"/>
<circle cx="317.6" cy="334.0" r="3.2"/>
<circle cx="326.5" cy="391.4" r="3.2"/>
<circle cx="306.1" cy="333.9" r="3.2"/>
<circle cx="322.9" cy="387.7" r="3.2"/>
<circle cx="398.0" cy="298.2" r="3.2"/>
<circle cx="387.0" cy="332.5" r="3.2"/>
<circle cx="348.1" cy="327.8" r="3.2"/>
<circle cx="335.5" cy="329.8" r="3.2"/>
<circle cx="426.0" cy="307.2" r="3.2"/>
<circle cx="345.8" cy="376.3" r="3.2"/>
<circle cx="408.1" cy="337.8" r="3.2"/>
<circle cx="304.6" cy="341.9" r="3.2"/>
<circle cx="347.9" cy="386.0" r="3.2"/>
<circle cx="323.9" cy="331.1" r="3.2"/>
<circle cx="418.2" cy="298.0" r="3.2"/>
<circle cx="353.0" cy="375.4" r="3.2"/>
<circle cx="343.4" cy="322.0" r="3.2"/>
<circle cx="333.1" cy="365.9" r="3.2"/>
<circle cx="340.4" cy="322.3" r="3.2"/>
<circle cx="298.5" cy="369.8" r="3.2"/>
<circle cx="329.3" cy="342.0" r="3.2"/>
<circle cx="349.8" cy="319.9" r="3.2"/>
<circle cx="355.6" cy="343.9" r="3.2"/>
<circle cx="422.4" cy="313.1" r="3.2"/>
<circle cx="379.4" cy="327.5" r="3.2"/>
<circle cx="340.8" cy="330.8" r="3.2"/>
<circle cx="402.8" cy="302.8" r="3.2"/>
<circle cx="324.4" cy="369.5" r="3.2"/>
<circle cx="302.5" cy="349.7" r="3.2"/>
<circle cx="341.7" cy="392.0" r="3.2"/>
<circle cx="310.9" cy="344.3" r="3.2"/>
<circle cx="393.1" cy="339.2" r="3.2"/>
<circle cx="329.4" cy="336.3" r="3.2"/>
<circle cx="387.0" cy="307.0" r="3.2"/>
<circle cx="374.0" cy="331.9" r="3.2"/>
<circle cx="396.9" cy="314.7" r="3.2"/>
<circle cx="366.0" cy="317.9" r="3.2"/>
<circle cx="430.8" cy="305.1" r="3.2"/>
<circle cx="303.4" cy="324.1" r="3.2"/>
<circle cx="314.0" cy="313.8" r="3.2"/>
<circle cx="332.8" cy="372.0" r="3.2"/>
<circle cx="424.7" cy="305.5" r="3.2"/>
<circle cx="377.9" cy="356.4" r="3.2"/>
<circle cx="327.2" cy="331.5" r="3.2"/>
<circle cx="316.9" cy="315.2" r="3.2"/>
<circle cx="332.2" cy="354.3" r="3.2"/>
<circle cx="388.9" cy="313.3" r="3.2"/>
<circle cx="339.8" cy="315.1" r="3.2"/>
<circle cx="404.6" cy="349.3" r="3.2"/>
<circle cx="383.7" cy="304.0" r="3.2"/>
<circle cx="319.9" cy="363.8" r="3.2"/>
<circle cx="339.2" cy="389.4" r="3.2"/>
<circle cx="339.9" cy="351.1" r="3.2"/>
<circle cx="345.9" cy="336.2" r="3.2"/>
<circle cx="346.7" cy="314.5" r="3.2"/>
<circle cx="395.6" cy="315.2" r="3.2"/>
<circle cx="354.8" cy="376.2" r="3.2"/>
<circle cx="352.4" cy="382.4" r="3.2"/>
<circle cx="359.8" cy="311.1" r="3.2"/>
<circle cx="300.0" cy="349.6" r="3.2"/>
<circle cx="383.8" cy="385.1" r="3.2"/>
<circle cx="309.9" cy="356.6" r="3.2"/>
<circle cx="347.7" cy="344.9" r="3.2"/>
<circle cx="317.5" cy="323.0" r="3.2"/>
<circle cx="312.6" cy="343.6" r="3.2"/>
<circle cx="324.4" cy="307.5" r="3.2"/>
<circle cx="362.7" cy="300.3" r="3.2"/>
<circle cx="408.5" cy="310.9" r="3.2"/>
<circle cx="403.3" cy="317.0" r="3.2"/>
<circle cx="352.2" cy="378.8" r="3.2"/>
<circle cx="409.1" cy="313.1" r="3.2"/>
<circle cx="327.2" cy="334.6" r="3.2"/>
<circle cx="367.4" cy="333.0" r="3.2"/>
<circle cx="314.5" cy="319.5" r="3.2"/>
<circle cx="303.5" cy="350.7" r="3.2"/>
<circle cx="399.5" cy="298.8" r="3.2"/>
<circle cx="410.3" cy="306.7" r="3.2"/>
<circle cx="382.0" cy="325.3" r="3.2"/>
<circle cx="354.3" cy="352.7" r="3.2"/>
<circle cx="355.0" cy="360.2" r="3.2"/>
<circle cx="357.9" cy="338.4" r="3.2"/>
<circle cx="301.1" cy="356.3" r="3.2"/>
<circle cx="363.6" cy="318.3" r="3.2"/>
<circle cx="359.4" cy="312.8" r="3.2"/>
<circle cx="361.4" cy="305.6" r="3.2"/>
<circle cx="315.2" cy="337.6" r="3.2"/>
<circle cx="310.3" cy="338.8" r="3.2"/>
<circle cx="366.4" cy="299.0" r="3.2"/>
<circle cx="383.3" cy="303.1" r="3.2"/>
<circle cx="366.5" cy="300.4" r="3.2"/>
<circle cx="365.5" cy="332.4" r="3.2"/>
<circle cx="425.4" cy="308.5" r="3.2"/>
<circle cx="324.0" cy="392.2" r="3.2"/>
<circle cx="363.9" cy="389.7" r="3.2"/>
<circle cx="420.7" cy="311.3" r="3.2"/>
<circle cx="306.8" cy="329.7" r="3.2"/>
<circle cx="399.3" cy="310.7" r="3.2"/>
<circle cx="365.3" cy="386.1" r="3.2"/>
<circle cx="325.9" cy="321.0" r="3.2"/>
<circle cx="365.8" cy="326.6" r="3.2"/>
<circle cx="319.6" cy="387.7" r="3.2"/>
<circle cx="320.6" cy="372.7" r="3.2"/>
<circle cx="313.4" cy="347.5" r="3.2"/>
<circle cx="383.3" cy="330.6" r="3.2"/>
<circle cx="375.7" cy="382.4" r="3.2"/>
<circle cx="382.4" cy="334.0" r="3.2"/>
<circle cx="404.9" cy="321.2" r="3.2"/>
<circle cx="346.3" cy="370.7" r="3.2"/>
<circle cx="357.3" cy="312.5" r="3.2"/>
<circle cx="397.6" cy="299.8" r="3.2"/>
<circle cx="407.9" cy="320.1" r="3.2"/>
<circle cx="376.5" cy="360.7" r="3.2"/>
<circle cx="380.6" cy="337.8" r="3.2"/>
<circle cx="366.7" cy="383.7" r="3.2"/>
<circle cx="315.7" cy="317.5" r="3.2"/>
<circle cx="385.5" cy="297.2" r="3.2"/>
<circle cx="312.3" cy="330.4" r="3.2"/>
<circle cx="328.1" cy="352.8" r="3.2"/>
<circle cx="376.9" cy="315.2" r="3.2"/>
<circle cx="381.6" cy="342.0" r="3.2"/>
<circle cx="316.1" cy="387.7" r="3.2"/>
<circle cx="330.6" cy="309.8" r="3.2"/>
<circle cx="310.8" cy="358.2" r="3.2"/>
<circle cx="351.9" cy="321.2" r="3.2"/>
<circle cx="299.5" cy="358.8" r="3.2"/>
<circle cx="373.4" cy="329.7" r="3.2"/>
<circle cx="384.5" cy="338.9" r="3.2"/>
<circle cx="331.3" cy="384.4" r="3.2"/>
<circle cx="303.9" cy="347.6" r="3.2"/>
<circle cx="352.4" cy="318.5" r="3.2"/>
<circle cx="305.8" cy="372.1" r="3.2"/>
<circle cx="299.7" cy="349.5" r="3.2"/>
<circle cx="424.1" cy="309.1" r="3.2"/>
<circle cx="324.7" cy="355.2" r="3.2"/>
<circle cx="365.9" cy="358.5" r="3.2"/>
<circle cx="407.0" cy="312.3" r="3.2"/>
<circle cx="397.9" cy="341.1" r="3.2"/>
<circle cx="397.4" cy="339.8" r="3.2"/>
<circle cx="343.0" cy="369.2" r="3.2"/>
<circle cx="391.1" cy="378.7" r="3.2"/>
<circle cx="393.4" cy="321.3" r="3.2"/>
<circle cx="403.7" cy="346.8" r="3.2"/>
<circle cx="333.5" cy="358.6" r="3.2"/>
<circle cx="332.9" cy="318.4" r="3.2"/>
<circle cx="398.0" cy="327.4" r="3.2"/>
<circle cx="330.0" cy="384.8" r="3.2"/>
<circle cx="382.5" cy="363.6" r="3.2"/>
<circle cx="360.9" cy="378.1" r="3.2"/>
<circle cx="356.6" cy="366.7" r="3.2"/>
<circle cx="326.4" cy="356.6" r="3.2"/>
<circle cx="308.4" cy="385.2" r="3.2"/>
<circle cx="344.2" cy="309.0" r="3.2"/>
<circle cx="390.8" cy="357.8" r="3.2"/>
<circle cx="306.8" cy="353.5" r="3.2"/>
<circle cx="346.7" cy="375.9" r="3.2"/>
<circle cx="306.8" cy="380.9" r="3.2"/>
<circle cx="312.4" cy="315.4" r="3.2"/>
<circle cx="383.0" cy="376.7" r="3.2"/>
<circle cx="382.6" cy="323.4" r="3.2"/>
<circle cx="399.5" cy="315.3" r="3.2"/>
<circle cx="340.8" cy="337.0" r="3.2"/>
<circle cx="300.8" cy="320.4" r="3.2"/>
<circle cx="335.9" cy="365.9" r="3.2"/>
<circle cx="347.3" cy="326.8" r="3.2"/>
<circle cx="302.2" cy="335.9" r="3.2"/>
<circle cx="356.5" cy="371.5" r="3.2"/>
<circle cx="370.1" cy="316.4" r="3.2"/>
<circle cx="413.5" cy="304.0" r="3.2"/>
<circle cx="407.9" cy="311.9" r="3.2"/>
<circle cx="363.9" cy="373.9" r="3.2"/>
<circle cx="322.7" cy="344.0" r="3.2"/>
<circle cx="344.5" cy="377.4" r="3.2"/>
<circle cx="332.9" cy="388.4" r="3.2"/>
<circle cx="336.0" cy="316.3" r="3.2"/>
<circle cx="391.7" cy="344.3" r="3.2"/>
<circle cx="312.7" cy="358.0" r="3.2"/>
<circle cx="308.8" cy="373.0" r="3.2"/>
<circle cx="391.4" cy="372.9" r="3.2"/>
<circle cx="382.1" cy="330.2" r="3.2"/>
<circle cx="351.8" cy="334.1" r="3.2"/>
<circle cx="417.3" cy="303.5" r="3.2"/>
<circle cx="325.6" cy="321.1" r="3.2"/>
<circle cx="348.8" cy="382.5" r="3.2"/>
<circle cx="329.3" cy="340.6" r="3.2"/>
<circle cx="369.2" cy="369.7" r="3.2"/>
<circle cx="398.9" cy="359.0" r="3.2"/>
<circle cx="344.7" cy="327.3" r="3.2"/>
<circle cx="318.8" cy="378.5" r="3.2"/>
<circle cx="320.7" cy="338.4" r="3.2"/>
<circle cx="401.6" cy="352.3" r="3.2"/>
<circle cx="314.9" cy="340.7" r="3.2"/>
<circle cx="416.6" cy="318.6" r="3.2"/>
<circle cx="323.7" cy="324.8" r="3.2"/>
<circle cx="318.7" cy="310.4" r="3.2"/>
<circle cx="331.2" cy="327.3" r="3.2"/>
<circle cx="368.0" cy="310.9" r="3.2"/>
<circle cx="311.6" cy="390.3" r="3.2"/>
<circle cx="311.6" cy="333.0" r="3.2"/>
<circle cx="396.3" cy="338.1" r="3.2"/>
<circle cx="324.3" cy="358.2" r="3.2"/>
<circle cx="312.3" cy="315.4" r="3.2"/>
<circle cx="351.5" cy="373.3" r="3.2"/>
<circle cx="390.9" cy="344.5" r="3.2"/>
<circle cx="382.7" cy="340.9" r="3.2"/>
<circle cx="317.0" cy="354.8" r="3.2"/>
<circle cx="352.2" cy="368.4" r="3.2"/>
<circle cx="354.4" cy="317.6" r="3.2"/>
<circle cx="339.9" cy="357.2" r="3.2"/>
<circle cx="311.1" cy="336.5" r="3.2"/>
<circle cx="382.4" cy="319.8" r="3.2"/>
<circle cx="354.8" cy="340.1" r="3.2"/>
<circle cx="381.3" cy="335.5" r="3.2"/>
<circle cx="322.5" cy="359.8" r="3.2"/>
<circle cx="402.3" cy="333.5" r="3.2"/>
<circle cx="303.1" cy="348.8" r="3.2"/>
<circle cx="319.6" cy="372.4" r="3.2"/>
<circle cx="311.5" cy="351.9" r="3.2"/>
<circle cx="370.5" cy="366.0" r="3.2"/>
<circle cx="366.6" cy="358.3" r="3.2"/>
<circle cx="353.0" cy="388.8" r="3.2"/>
<circle cx="326.2" cy="362.8" r="3.2"/>
<circle cx="350.6" cy="370.5" r="3.2"/>
<circle cx="314.4" cy="392.5" r="3.2"/>
<circle cx="345.6" cy="300.6" r="3.2"/>
<circle cx="354.4" cy="364.1" r="3.2"/>
<circle cx="345.2" cy="321.3" r="3.2"/>
<circle cx="328.1" cy="368.4" r="3.2"/>
<circle cx="327.3" cy="374.3" r="3.2"/>
<circle cx="350.5" cy="316.0" r="3.2"/>
<circle cx="315.3" cy="371.9" r="3.2"/>
<circle cx="360.9" cy="350.6" r="3.2"/>
<circle cx="328.3" cy="390.4" r="3.2"/>
<circle cx="345.3" cy="358.2" r="3.2"/>
<circle cx="360.7" cy="324.1" r="3.2"/>
<circle cx="371.5" cy="307.4" r="3.2"/>
<circle cx="409.7" cy="330.1" r="3.2"/>
<circle cx="412.0" cy="321.5" r="3.2"/>
<circle cx="348.4" cy="320.1" r="3.2"/>
<circle cx="298.4" cy="366.5" r="3.2"/>
<circle cx="335.7" cy="319.3" r="3.2"/>
<circle cx="338.4" cy="342.5" r="3.2"/>
<circle cx="355.4" cy="358.1" r="3.2"/>
<circle cx="386.3" cy="330.9" r="3.2"/>
<circle cx="305.6" cy="377.0" r="3.2"/>
<circle cx="316.8" cy="377.3" r="3.2"/>
<circle cx="385.9" cy="319.8" r="3.2"/>
<circle cx="329.3" cy="371.9" r="3.2"/>
<circle cx="344.4" cy="310.1" r="3.2"/>
<circle cx="320.5" cy="383.2" r="3.2"/>
<circle cx="379.5" cy="372.3" r="3.2"/>
<circle cx="387.6" cy="383.5" r="3.2"/>
<circle cx="324.4" cy="363.6" r="3.2"/>
<circle cx="369.1" cy="368.4" r="3.2"/>
<circle cx="356.8" cy="382.4" r="3.2"/>
<circle cx="329.4" cy="308.8" r="3.2"/>
<circle cx="364.1" cy="300.8" r="3.2"/>
<circle cx="363.8" cy="344.3" r="3.2"/>
<circle cx="370.3" cy="380.4" r="3.2"/>
<circle cx="360.7" cy="350.7" r="3.2"/>
<circle cx="387.2" cy="378.2" r="3.2"/>
<circle cx="348.2" cy="336.5" r="3.2"/>
<circle cx="426.7" cy="302.5" r="3.2"/>
<circle cx="383.4" cy="358.0" r="3.2"/>
<circle cx="301.8" cy="355.4" r="3.2"/>
<circle cx="342.3" cy="392.2" r="3.2"/>
<circle cx="366.4" cy="343.0" r="3.2"/>
<circle cx="418.3" cy="298.4" r="3.2"/>
<circle cx="394.2" cy="356.9" r="3.2"/>
<circle cx="343.4" cy="380.3" r="3.2"/>
<circle cx="347.1" cy="342.0" r="3.2"/>
<circle cx="368.4" cy="371.3" r="3.2"/>
<circle cx="326.2" cy="338.1" r="3.2"/>
<circle cx="354.6" cy="349.8" r="3.2"/>
<circle cx="408.8" cy="324.0" r="3.2"/>
<circle cx="342.3" cy="326.4" r="3.2"/>
<circle cx="338.1" cy="353.1" r="3.2"/>
<circle cx="383.1" cy="372.6" r="3.2"/>
<circle cx="303.4" cy="366.5" r="3.2"/>
<circle cx="304.7" cy="324.7" r="3.2"/>
<circle cx="386.2" cy="373.1" r="3.2"/>
<circle cx="380.6" cy="357.1" r="3.2"/>
<circle cx="391.3" cy="354.0" r="3.2"/>
<circle cx="389.3" cy="316.0" r="3.2"/>
<circle cx="387.4" cy="340.3" r="3.2"/>
<circle cx="400.2" cy="305.0" r="3.2"/>
<circle cx="385.9" cy="331.5" r="3.2"/>
<circle cx="373.3" cy="320.5" r="3.2"/>
<circle cx="338.5" cy="336.8" r="3.2"/>
<circle cx="340.7" cy="337.6" r="3.2"/>
<circle cx="305.3" cy="351.2" r="3.2"/>
<circle cx="406.6" cy="352.0" r="3.2"/>
<circle cx="353.3" cy="305.1" r="3.2"/>
<circle cx="384.4" cy="316.0" r="3.2"/>
<circle cx="314.3" cy="390.7" r="3.2"/>
<circle cx="309.8" cy="381.1" r="3.2"/>
<circle cx="394.4" cy="319.0" r="3.2"/>
<circle cx="396.3" cy="313.6" r="3.2"/>
<circle cx="304.7" cy="371.6" r="3.2"/>
<circle cx="395.8" cy="303.3" r="3.2"/>
<circle cx="382.2" cy="365.2" r="3.2"/>
<circle cx="359.7" cy="387.3" r="3.2"/>
<circle cx="332.0" cy="390.5" r="3.2"/>
<circle cx="407.5" cy="302.9" r="3.2"/>
<circle cx="339.7" cy="367.2" r="3.2"/>
<circle cx="347.3" cy="351.9" r="3.2"/>
<circle cx="356.8" cy="362.0" r="3.2"/>
<circle cx="317.4" cy="373.9" r="3.2"/>
<circle cx="382.4" cy="336.4" r="3.2"/>
<circle cx="349.7" cy="372.8" r="3.2"/>
<circle cx="392.2" cy="376.9" r="3.2"/>
<circle cx="342.5" cy="355.0" r="3.2"/>
<circle cx="355.4" cy="382.9" r="3.2"/>
<circle cx="348.5" cy="362.8" r="3.2"/>
<circle cx="378.6" cy="383.7" r="3.2"/>
<circle cx="406.2" cy="323.0" r="3.2"/>
<circle cx="354.6" cy="353.1" r="3.2"/>
<circle cx="374.6" cy="322.1" r="3.2"/>
<circle cx="344.5" cy="303.4" r="3.2"/>
<circle cx="372.2" cy="373.9" r="3.2"/>
<circle cx="324.9" cy="369.3" r="3.2"/>
<circle cx="379.3" cy="362.1" r="3.2"/>
<circle cx="360.4" cy="315.5" r="3.2"/>
<circle cx="332.1" cy="369.4" r="3.2"/>
<circle cx="404.1" cy="340.5" r="3.2"/>
<circle cx="309.8" cy="374.9" r="3.2"/>
<circle cx="401.5" cy="318.1" r="3.2"/>
<circle cx="375.7" cy="383.8" r="3.2"/>
<circle cx="323.3" cy="314.0" r="3.2"/>
<circle cx="322.2" cy="364.4" r="3.2"/>
<circle cx="346.6" cy="350.9" r="3.2"/>
<circle cx="378.0" cy="329.1" r="3.2"/>
<circle cx="402.4" cy="337.2" r="3.2"/>
<circle cx="324.9" cy="312.9" r="3.2"/>
<circle cx="372.7" cy="381.2" r="3.2"/>
<circle cx="359.4" cy="388.8" r="3.2"/>
<circle cx="419.9" cy="301.4" r="3.2"/>
<circle cx="378.1" cy="334.3" r="3.2"/>
<circle cx="314.1" cy="390.0" r="3.2"/>
<circle cx="332.5" cy="350.9" r="3.2"/>
<circle cx="358.1" cy="310.8" r="3.2"/>
<circle cx="332.3" cy="329.8" r="3.2"/>
<circle cx="410.2" cy="299.7" r="3.2"/>
<circle cx="377.3" cy="370.0" r="3.2"/>
<circle cx="312.1" cy="327.1" r="3.2"/>
<circle cx="362.5" cy="311.7" r="3.2"/>
<circle cx="330.0" cy="309.2" r="3.2"/>
<circle cx="388.8" cy="296.2" r="3.2"/>
<circle cx="394.1" cy="314.3" r="3.2"/>
<circle cx="302.8" cy="386.8" r="3.2"/>
<circle cx="327.6" cy="387.5" r="3.2"/>
<circle cx="316.7" cy="339.3" r="3.2"/>
<circle cx="311.0" cy="386.9" r="3.2"/>
<circle cx="358.6" cy="328.6" r="3.2"/>
<circle cx="408.3" cy="342.3" r="3.2"/>
<circle cx="382.2" cy="309.1" r="3.2"/>
<circle cx="393.6" cy="349.8" r="3.2"/>
<circle cx="317.4" cy="381.2" r="3.2"/>
<circle cx="333.7" cy="335.8" r="3.2"/>
<circle cx="318.9" cy="321.8" r="3.2"/>
<circle cx="410.5" cy="328.1" r="3.2"/>
<circle cx="320.5" cy="343.6" r="3.2"/>
<circle cx="340.6" cy="384.4" r="3.2"/>
<circle cx="313.3" cy="391.9" r="3.2"/>
<circle cx="305.6" cy="383.6" r="3.2"/>
<circle cx="387.5" cy="315.9" r="3.2"/>
<circle cx="362.0" cy="323.3" r="3.2"/>
<circle cx="332.5" cy="315.0" r="3.2"/>
<circle cx="311.1" cy="323.7" r="3.2"/>
<circle cx="395.3" cy="324.1" r="3.2"/>
<circle cx="406.1" cy="328.7" r="3.2"/>
<circle cx="322.9" cy="338.1" r="3.2"/>
<circle cx="322.1" cy="371.3" r="3.2"/>
<circle cx="393.4" cy="314.5" r="3.2"/>
<circle cx="379.5" cy="344.1" r="3.2"/>
<circle cx="334.7" cy="315.4" r="3.2"/>
<circle cx="380.1" cy="365.1" r="3.2"/>
<circle cx="396.2" cy="335.4" r="3.2"/>
<circle cx="394.7" cy="300.5" r="3.2"/>
<circle cx="406.6" cy="328.2" r="3.2"/>
<circle cx="414.8" cy="321.4" r="3.2"/>
<circle cx="322.9" cy="377.3" r="3.2"/>
<circle cx="347.7" cy="353.9" r="3.2"/>
<circle cx="357.7" cy="346.0" r="3.2"/>
<circle cx="341.0" cy="365.4" r="3.2"/>
<circle cx="366.8" cy="347.5" r="3.2"/>
<circle cx="370.0" cy="297.0" r="3.2"/>
<circle cx="391.7" cy="314.3" r="3.2"/>
<circle cx="300.4" cy="354.3" r="3.2"/>
<circle cx="375.2" cy="346.8" r="3.2"/>
<circle cx="364.1" cy="344.6" r="3.2"/>
<circle cx="335.5" cy="307.1" r="3.2"/>
<circle cx="352.4" cy="308.6" r="3.2"/>
<circle cx="377.3" cy="380.2" r="3.2"/>
<circle cx="317.7" cy="351.7" r="3.2"/>
<circle cx="398.0" cy="311.3" r="3.2"/>
<circle cx="350.1" cy="336.6" r="3.2"/>
<circle cx="351.0" cy="388.2" r="3.2"/>
<circle cx="402.1" cy="328.5" r="3.2"/>
<circle cx="330.2" cy="328.2" r="3.2"/>
<circle cx="305.2" cy="346.2" r="3.2"/>
<circle cx="382.8" cy="331.1" r="3.2"/>
<circle cx="416.5" cy="298.4" r="3.2"/>
<circle cx="384.0" cy="321.3" r="3.2"/>
<circle cx="388.9" cy="322.1" r="3.2"/>
<circle cx="381.2" cy="319.8" r="3.2"/>
<circle cx="367.7" cy="337.9" r="3.2"/>
<circle cx="338.9" cy="359.1" r="3.2"/>
<circle cx="314.1" cy="353.8" r="3.2"/>
<circle cx="334.0" cy="341.2" r="3.2"/>
<circle cx="369.5" cy="309.7" r="3.2"/>
<circle cx="337.3" cy="335.2" r="3.2"/>
<circle cx="336.6" cy="319.1" r="3.2"/>
<circle cx="309.8" cy="349.1" r="3.2"/>
<circle cx="374.4" cy="359.4" r="3.2"/>
<circle cx="359.8" cy="349.3" r="3.2"/>
<circle cx="380.1" cy="341.4" r="3.2"/>
<circle cx="339.6" cy="319.0" r="3.2"/>
<circle cx="327.7" cy="345.7" r="3.2"/>
<circle cx="349.3" cy="353.0" r="3.2"/>
<circle cx="413.5" cy="318.6" r="3.2"/>
<circle cx="372.6" cy="343.6" r="3.2"/>
<circle cx="306.3" cy="333.4" r="3.2"/>
<circle cx="356.9" cy="367.8" r="3.2"/>
<circle cx="318.7" cy="328.4" r="3.2"/>
<circle cx="345.2" cy="361.9" r="3.2"/>
<circle cx="380.6" cy="379.1" r="3.2"/>
<circle cx="397.0" cy="368.6" r="3.2"/>
<circle cx="399.8" cy="342.0" r="3.2"/>
<circle cx="420.6" cy="307.6" r="3.2"/>
<circle cx="400.6" cy="353.0" r="3.2"/>
<circle cx="364.7" cy="390.3" r="3.2"/>
<circle cx="374.6" cy="336.4" r="3.2"/>
<circle cx="379.4" cy="332.6" r="3.2"/>
<circle cx="394.9" cy="324.0" r="3.2"/>
<circle cx="350.4" cy="350.0" r="3.2"/>
<circle cx="349.5" cy="326.9" r="3.2"/>
<circle cx="364.9" cy="339.0" r="3.2"/>
<circle cx="322.7" cy="325.1" r="3.2"/>
<circle cx="317.4" cy="352.0" r="3.2"/>
<circle cx="375.9" cy="303.7" r="3.2"/>
<circle cx="355.1" cy="385.1" r="3.2"/>
<circle cx="373.7" cy="344.2" r="3.2"/>
<circle cx="367.3" cy="346.2" r="3.2"/>
<circle cx="389.8" cy="333.6" r="3.2"/>
<circle cx="345.9" cy="353.9" r="3.2"/>
<circle cx="345.0" cy="388.8" r="3.2"/>
<circle cx="388.6" cy="347.0" r="3.2"/>
<circle cx="311.3" cy="332.1" r="3.2"/>
<circle cx="351.7" cy="350.6" r="3.2"/>
<circle cx="374.9" cy="382.1" r="3.2"/>
<circle cx="357.0" cy="356.8" r="3.2"/>
<circle cx="369.0" cy="375.8" r="3.2"/>
<circle cx="320.9" cy="326.5" r="3.2"/>
<circle cx="366.7" cy="305.9" r="3.2"/>
<circle cx="366.6" cy="345.0" r="3.2"/>
<circle cx="323.2" cy="313.1" r="3.2"/>
<circle cx="382.4" cy="354.7" r="3.2"/>
<circle cx="383.3" cy="299.2" r="3.2"/>
<circle cx="339.1" cy="363.4" r="3.2"/>
<circle cx="387.5" cy="314.5" r="3.2"/>
<circle cx="364.7" cy="349.8" r="3.2"/>
<circle cx="333.6" cy="359.0" r="3.2"/>
<circle cx="375.0" cy="335.7" r="3.2"/>
<circle cx="314.3" cy="310.5" r="3.2"/>
<circle cx="399.8" cy="305.6" r="3.2"/>
<circle cx="368.0" cy="376.5" r="3.2"/>
<circle cx="380.1" cy="374.9" r="3.2"/>
<circle cx="393.9" cy="330.0" r="3.2"/>
<circle cx="320.7" cy="321.4" r="3.2"/>
<circle cx="311.3" cy="384.5" r="3.2"/>
<circle cx="376.0" cy="329.5" r="3.2"/>
<circle cx="358.3" cy="333.2" r="3.2"/>
<circle cx="305.3" cy="383.2" r="3.2"/>
<circle cx="356.9" cy="356.4" r="3.2"/>
<circle cx="340.2" cy="384.0" r="3.2"/>
<circle cx="407.3" cy="325.1" r="3.2"/>
<circle cx="364.4" cy="389.0" r="3.2"/>
<circle cx="330.6" cy="333.6" r="3.2"/>
<circle cx="394.3" cy="316.9" r="3.2"/>
<circle cx="339.4" cy="381.7" r="3.2"/>
<circle cx="362.9" cy="373.5" r="3.2"/>
<circle cx="330.6" cy="312.2" r="3.2"/>
<circle cx="346.0" cy="313.5" r="3.2"/>
<circle cx="373.2" cy="306.4" r="3.2"/>
<circle cx="369.5" cy="333.2" r="3.2"/>
<circle cx="352.0" cy="301.5" r="3.2"/>
<circle cx="314.5" cy="376.8" r="3.2"/>
<circle cx="345.1" cy="319.2" r="3.2"/>
<circle cx="387.0" cy="328.8" r="3.2"/>
<circle cx="318.9" cy="364.9" r="3.2"/>
<circle cx="310.4" cy="321.7" r="3.2"/>
<circle cx="409.9" cy="307.7" r="3.2"/>
<circle cx="405.9" cy="310.8" r="3.2"/>
<circle cx="345.3" cy="366.5" r="3.2"/>
<circle cx="348.5" cy="389.9" r="3.2"/>
<circle cx="325.9" cy="389.1" r="3.2"/>
<circle cx="365.6" cy="317.5" r="3.2"/>
<circle cx="358.7" cy="308.0" r="3.2"/>
<circle cx="347.3" cy="319.4" r="3.2"/>
<circle cx="414.9" cy="307.2" r="3.2"/>
<circle cx="366.7" cy="348.7" r="3.2"/>
<circle cx="349.6" cy="360.1" r="3.2"/>
<circle cx="350.3" cy="303.5" r="3.2"/>
<circle cx="321.7" cy="379.2" r="3.2"/>
<circle cx="341.0" cy="360.6" r="3.2"/>
<circle cx="312.6" cy="350.6" r="3.2"/>
<circle cx="346.4" cy="344.5" r="3.2"/>
<circle cx="314.9" cy="366.0" r="3.2"/>
<circle cx="335.8" cy="334.9" r="3.2"/>
<circle cx="315.7" cy="322.4" r="3.2"/>
<circle cx="302.0" cy="362.3" r="3.2"/>
<circle cx="386.9" cy="329.8" r="3.2"/>
<circle cx="353.3" cy="360.2" r="3.2"/>
<circle cx="391.7" cy="319.6" r="3.2"/>
<circle cx="411.5" cy="329.9" r="3.2"/>
<circle cx="382.3" cy="313.0" r="3.2"/>
<circle cx="313.4" cy="385.4" r="3.2"/>
<circle cx="396.4" cy="365.5" r="3.2"/>
<circle cx="319.7" cy="314.6" r="3.2"/>
<circle cx="338.6" cy="332.7" r="3.2"/>
<circle cx="303.3" cy="325.8" r="3.2"/>
<circle cx="394.0" cy="320.2" r="3.2"/>
<circle cx="356.3" cy="362.7" r="3.2"/>
<circle cx="304.3" cy="319.2" r="3.2"/>
<circle cx="312.9" cy="373.4" r="3.2"/>
<circle cx="326.2" cy="385.5" r="3.2"/>
<circle cx="398.4" cy="303.5" r="3.2"/>
<circle cx="391.1" cy="334.0" r="3.2"/>
<circle cx="335.7" cy="303.9" r="3.2"/>
<circle cx="382.2" cy="339.8" r="3.2"/>
<circle cx="305.3" cy="364.1" r="3.2"/>
<circle cx="355.4" cy="345.7" r="3.2"/>
<circle cx="422.4" cy="307.6" r="3.2"/>
<circle cx="400.1" cy="299.3" r="3.2"/>
<circle cx="392.2" cy="374.8" r="3.2"/>
<circle cx="333.0" cy="349.1" r="3.2"/>
<circle cx="370.9" cy="319.7" r="3.2"/>
<circle cx="306.0" cy="330.4" r="3.2"/>
<circle cx="353.2" cy="314.9" r="3.2"/>
<circle cx="339.6" cy="308.5" r="3.2"/>
<circle cx="392.7" cy="361.4" r="3.2"/>
<circle cx="329.9" cy="318.9" r="3.2"/>
<circle cx="367.1" cy="339.1" r="3.2"/>
<circle cx="338.1" cy="382.6" r="3.2"/>
<circle cx="317.0" cy="350.8" r="3.2"/>
<circle cx="342.7" cy="375.7" r="3.2"/>
<circle cx="371.5" cy="370.3" r="3.2"/>
<circle cx="320.7" cy="361.0" r="3.2"/>
<circle cx="378.2" cy="340.7" r="3.2"/>
<circle cx="313.3" cy="323.6" r="3.2"/>
<circle cx="306.1" cy="322.8" r="3.2"/>
<circle cx="324.4" cy="364.5" r="3.2"/>
<circle cx="358.0" cy="306.2" r="3.2"/>
<circle cx="341.5" cy="341.4" r="3.2"/>
<circle cx="444.9" cy="301.5" r="3.2"/>
<circle cx="312.3" cy="300.1" r="3.2"/>
<circle cx="363.4" cy="278.0" r="3.2"/>
<circle cx="434.3" cy="297.1" r="3.2"/>
<circle cx="391.7" cy="309.3" r="3.2"/>
<circle cx="395.3" cy="280.6" r="3.2"/>
<circle cx="304.0" cy="302.5" r="3.2"/>
<circle cx="422.6" cy="282.4" r="3.2"/>
<circle cx="327.1" cy="296.8" r="3.2"/>
<circle cx="423.5" cy="308.9" r="3.2"/>
<circle cx="324.6" cy="303.0" r="3.2"/>
<circle cx="421.2" cy="301.2" r="3.2"/>
<circle cx="420.5" cy="283.4" r="3.2"/>
<circle cx="353.8" cy="293.1" r="3.2"/>
<circle cx="353.9" cy="304.9" r="3.2"/>
<circle cx="382.8" cy="296.4" r="3.2"/>
<circle cx="419.7" cy="299.6" r="3.2"/>
<circle cx="432.2" cy="309.7" r="3.2"/>
<circle cx="372.2" cy="291.0" r="3.2"/>
<circle cx="384.8" cy="273.4" r="3.2"/>
<circle cx="400.4" cy="276.9" r="3.2"/>
<circle cx="364.7" cy="310.7" r="3.2"/>
<circle cx="364.2" cy="278.0" r="3.2"/>
<circle cx="414.9" cy="287.9" r="3.2"/>
<circle cx="341.4" cy="297.8" r="3.2"/>
<circle cx="349.4" cy="288.4" r="3.2"/>
<circle cx="397.3" cy="304.7" r="3.2"/>
<circle cx="432.0" cy="276.9" r="3.2"/>
<circle cx="343.2" cy="288.6" r="3.2"/>
<circle cx="382.3" cy="284.6" r="3.2"/>
<circle cx="441.8" cy="308.2" r="3.2"/>
<circle cx="440.4" cy="296.0" r="3.2"/>
<circle cx="398.8" cy="295.6" r="3.2"/>
<circle cx="343.4" cy="294.0" r="3.2"/>
<circle cx="439.1" cy="290.2" r="3.2"/>
<circle cx="394.5" cy="282.6" r="3.2"/>
<circle cx="399.1" cy="288.8" r="3.2"/>
<circle cx="312.4" cy="297.7" r="3.2"/>
<circle cx="354.3" cy="294.4" r="3.2"/>
<circle cx="360.8" cy="292.3" r="3.2"/>
<circle cx="382.5" cy="286.6" r="3.2"/>
<circle cx="429.9" cy="293.0" r="3.2"/>
<circle cx="316.4" cy="306.2" r="3.2"/>
<circle cx="377.5" cy="280.6" r="3.2"/>
<circle cx="371.4" cy="293.3" r="3.2"/>
<circle cx="385.9" cy="273.4" r="3.2"/>
<circle cx="364.2" cy="306.3" r="3.2"/>
<circle cx="380.4" cy="300.0" r="3.2"/>
<circle cx="410.5" cy="274.8" r="3.2"/>
<circle cx="444.6" cy="300.3" r="3.2"/>
<circle cx="357.2" cy="277.2" r="3.2"/>
<circle cx="440.2" cy="293.6" r="3.2"/>
<circle cx="413.1" cy="275.7" r="3.2"/>
<circle cx="334.6" cy="285.6" r="3.2"/>
<circle cx="403.3" cy="287.9" r="3.2"/>
<circle cx="429.7" cy="296.1" r="3.2"/>
<circle cx="427.3" cy="293.6" r="3.2"/>
<circle cx="434.0" cy="306.6" r="3.2"/>
<circle cx="324.5" cy="301.3" r="3.2"/>
<circle cx="349.8" cy="302.1" r="3.2"/>
<circle cx="399.4" cy="304.7" r="3.2"/>
<circle cx="405.4" cy="271.8" r="3.2"/>
<circle cx="388.2" cy="274.2" r="3.2"/>
<circle cx="380.1" cy="303.7" r="3.2"/>
<circle cx="316.5" cy="308.9" r="3.2"/>
<circle cx="398.6" cy="280.7" r="3.2"/>
<circle cx="328.2" cy="288.8" r="3.2"/>
<circle cx="422.4" cy="294.4" r="3.2"/>
<circle cx="316.1" cy="303.6" r="3.2"/>
<circle cx="327.0" cy="293.3" r="3.2"/>
<circle cx="342.3" cy="298.9" r="3.2"/>
<circle cx="400.7" cy="303.9" r="3.2"/>
<circle cx="373.3" cy="306.7" r="3.2"/>
<circle cx="416.9" cy="271.5" r="3.2"/>
<circle cx="326.6" cy="304.4" r="3.2"/>
<circle cx="399.2" cy="286.5" r="3.2"/>
<circle cx="369.5" cy="276.6" r="3.2"/>
<circle cx="423.4" cy="286.5" r="3.2"/>
<circle cx="427.5" cy="295.7" r="3.2"/>
<circle cx="331.6" cy="307.5" r="3.2"/>
<circle cx="386.0" cy="271.8" r="3.2"/>
<circle cx="368.3" cy="294.2" r="3.2"/>
<circle cx="356.6" cy="284.9" r="3.2"/>
<circle cx="398.0" cy="281.5" r="3.2"/>
<circle cx="339.9" cy="291.0" r="3.2"/>
<circle cx="338.3" cy="293.9" r="3.2"/>
<circle cx="377.1" cy="310.2" r="3.2"/>
<circle cx="381.9" cy="302.4" r="3.2"/>
<circle cx="427.4" cy="302.5" r="3.2"/>
<circle cx="392.4" cy="296.7" r="3.2"/>
<circle cx="416.1" cy="306.7" r="3.2"/>
<circle cx="437.0" cy="298.6" r="3.2"/>
<circle cx="344.4" cy="302.1" r="3.2"/>
<circle cx="380.4" cy="287.1" r="3.2"/>
<circle cx="370.3" cy="285.4" r="3.2"/>
<circle cx="366.2" cy="288.7" r="3.2"/>
<circle cx="383.0" cy="282.7" r="3.2"/>
<circle cx="344.0" cy="283.0" r="3.2"/>
<circle cx="406.1" cy="293.2" r="3.2"/>
<circle cx="434.5" cy="294.5" r="3.2"/>
<circle cx="352.1" cy="302.5" r="3.2"/>
<circle cx="362.5" cy="306.5" r="3.2"/>
<circle cx="431.3" cy="281.6" r="3.2"/>
<circle cx="402.8" cy="279.2" r="3.2"/>
<circle cx="358.3" cy="278.4" r="3.2"/>
<circle cx="388.0" cy="306.3" r="3.2"/>
<circle cx="394.6" cy="278.3" r="3.2"/>
<circle cx="407.1" cy="310.5" r="3.2"/>
<circle cx="387.7" cy="273.3" r="3.2"/>
<circle cx="418.2" cy="306.8" r="3.2"/>
<circle cx="327.5" cy="292.6" r="3.2"/>
<circle cx="427.8" cy="296.9" r="3.2"/>
<circle cx="434.7" cy="278.9" r="3.2"/>
<circle cx="347.7" cy="301.5" r="3.2"/>
<circle cx="394.7" cy="287.0" r="3.2"/>
<circle cx="399.1" cy="284.2" r="3.2"/>
<circle cx="348.8" cy="290.8" r="3.2"/>
<circle cx="387.3" cy="280.8" r="3.2"/>
<circle cx="435.1" cy="293.7" r="3.2"/>
<circle cx="389.6" cy="300.4" r="3.2"/>
<circle cx="412.0" cy="273.8" r="3.2"/>
<circle cx="418.8" cy="287.8" r="3.2"/>
<circle cx="378.6" cy="294.7" r="3.2"/>
<circle cx="381.0" cy="297.6" r="3.2"/>
<circle cx="387.8" cy="283.9" r="3.2"/>
<circle cx="408.2" cy="280.8" r="3.2"/>
<circle cx="403.9" cy="302.1" r="3.2"/>
<circle cx="413.3" cy="283.0" r="3.2"/>
<circle cx="366.2" cy="281.7" r="3.2"/>
<circle cx="376.4" cy="309.5" r="3.2"/>
<circle cx="369.5" cy="297.5" r="3.2"/>
<circle cx="410.5" cy="273.8" r="3.2"/>
<circle cx="381.1" cy="277.6" r="3.2"/>
<circle cx="437.2" cy="285.4" r="3.2"/>
<circle cx="413.6" cy="280.2" r="3.2"/>
<circle cx="443.4" cy="291.0" r="3.2"/>
<circle cx="392.9" cy="284.5" r="3.2"/>
<circle cx="416.9" cy="289.3" r="3.2"/>
<circle cx="347.3" cy="307.9" r="3.2"/>
<circle cx="315.7" cy="300.8" r="3.2"/>
<circle cx="358.7" cy="306.3" r="3.2"/>
<circle cx="359.8" cy="308.6" r="3.2"/>
<circle cx="438.0" cy="296.3" r="3.2"/>
<circle cx="302.4" cy="392.1" r="3.2"/>
<circle cx="306.2" cy="397.9" r="3.2"/>
<circle cx="303.1" cy="390.5" r="3.2"/>
<circle cx="301.7" cy="402.2" r="3.2"/>
<circle cx="295.7" cy="411.6" r="3.2"/>
<circle cx="366.9" cy="392.6" r="3.2"/>
<circle cx="308.3" cy="394.6" r="3.2"/>
<circle cx="296.2" cy="405.8" r="3.2"/>
<circle cx="339.8" cy="398.5" r="3.2"/>
<circle cx="301.0" cy="412.3" r="3.2"/>
<circle cx="316.0" cy="409.0" r="3.2"/>
<circle cx="366.3" cy="389.8" r="3.2"/>
<circle cx="309.8" cy="384.8" r="3.2"/>
<circle cx="295.1" cy="407.6" r="3.2"/>
<circle cx="348.3" cy="386.9" r="3.2"/>
<circle cx="314.0" cy="413.4" r="3.2"/>
<circle cx="303.5" cy="409.3" r="3.2"/>
<circle cx="348.9" cy="385.2" r="3.2"/>
<circle cx="330.5" cy="391.4" r="3.2"/>
<circle cx="323.0" cy="387.4" r="3.2"/>
<circle cx="311.6" cy="412.1" r="3.2"/>
<circle cx="292.0" cy="399.6" r="3.2"/>
<circle cx="293.6" cy="397.7" r="3.2"/>
<circle cx="297.9" cy="405.9" r="3.2"/>
<circle cx="294.8" cy="407.6" r="3.2"/>
<circle cx="330.1" cy="387.6" r="3.2"/>
<circle cx="315.4" cy="399.9" r="3.2"/>
<circle cx="301.5" cy="415.0" r="3.2"/>
<circle cx="307.3" cy="389.7" r="3.2"/>
<circle cx="306.5" cy="386.2" r="3.2"/>
<circle cx="284.3" cy="400.3" r="3.2"/>
<circle cx="320.8" cy="401.8" r="3.2"/>
<circle cx="316.3" cy="384.3" r="3.2"/>
<circle cx="348.8" cy="404.9" r="3.2"/>
<circle cx="318.7" cy="396.3" r="3.2"/>
<circle cx="379.8" cy="384.2" r="3.2"/>
<circle cx="305.5" cy="403.5" r="3.2"/>
<circle cx="317.7" cy="391.7" r="3.2"/>
<circle cx="299.8" cy="387.7" r="3.2"/>
<circle cx="370.9" cy="385.6" r="3.2"/>
<circle cx="349.4" cy="394.4" r="3.2"/>
<circle cx="344.6" cy="401.6" r="3.2"/>
<circle cx="303.4" cy="404.1" r="3.2"/>
<circle cx="354.3" cy="396.1" r="3.2"/>
<circle cx="332.6" cy="403.6" r="3.2"/>
<circle cx="347.7" cy="394.3" r="3.2"/>
<circle cx="302.3" cy="403.6" r="3.2"/>
<circle cx="306.5" cy="413.1" r="3.2"/>
<circle cx="327.3" cy="407.1" r="3.2"/>
<circle cx="332.4" cy="400.9" r="3.2"/>
<circle cx="361.3" cy="391.6" r="3.2"/>
<circle cx="297.2" cy="410.3" r="3.2"/>
<circle cx="326.0" cy="404.5" r="3.2"/>
<circle cx="366.8" cy="385.4" r="3.2"/>
<circle cx="318.1" cy="410.6" r="3.2"/>
<circle cx="361.8" cy="387.9" r="3.2"/>
<circle cx="295.4" cy="392.0" r="3.2"/>
<circle cx="290.3" cy="395.4" r="3.2"/>
<circle cx="325.3" cy="386.8" r="3.2"/>
<circle cx="327.8" cy="409.5" r="3.2"/>
<circle cx="337.2" cy="300.2" r="3.2"/>
<circle cx="419.3" cy="276.4" r="3.2"/>
<circle cx="387.4" cy="397.7" r="3.2"/>
<circle cx="433.9" cy="292.3" r="3.2"/>
<circle cx="420.2" cy="327.6" r="3.2"/>
<circle cx="361.2" cy="402.7" r="3.2"/>
<circle cx="367.4" cy="392.3" r="3.2"/>
<circle cx="392.9" cy="379.0" r="3.2"/>
<circle cx="408.8" cy="383.6" r="3.2"/>
<circle cx="304.0" cy="296.9" r="3.2"/>
<circle cx="297.4" cy="391.2" r="3.2"/>
<circle cx="425.4" cy="285.0" r="3.2"/>
<circle cx="329.2" cy="303.5" r="3.2"/>
<circle cx="335.4" cy="302.3" r="3.2"/>
<circle cx="423.3" cy="349.8" r="3.2"/>
<circle cx="414.0" cy="293.6" r="3.2"/>
<circle cx="414.2" cy="355.6" r="3.2"/>
<circle cx="358.2" cy="409.7" r="3.2"/>
<circle cx="356.6" cy="400.7" r="3.2"/>
<circle cx="387.9" cy="269.7" r="3.2"/>
<circle cx="423.9" cy="273.4" r="3.2"/>
<circle cx="381.0" cy="290.5" r="3.2"/>
<circle cx="413.9" cy="340.7" r="3.2"/>
<circle cx="420.0" cy="285.0" r="3.2"/>
<circle cx="432.8" cy="294.7" r="3.2"/>
<circle cx="326.5" cy="405.1" r="3.2"/>
<circle cx="395.4" cy="286.5" r="3.2"/>
<circle cx="291.7" cy="394.1" r="3.2"/>
<circle cx="332.3" cy="298.8" r="3.2"/>
<circle cx="375.3" cy="286.3" r="3.2"/>
<circle cx="420.5" cy="286.0" r="3.2"/>
<circle cx="394.3" cy="280.1" r="3.2"/>
<circle cx="418.4" cy="281.3" r="3.2"/>
<circle cx="434.7" cy="276.7" r="3.2"/>
<circle cx="328.7" cy="403.1" r="3.2"/>
<circle cx="421.1" cy="297.9" r="3.2"/>
<circle cx="340.4" cy="411.2" r="3.2"/>
<circle cx="390.7" cy="269.9" r="3.2"/>
<circle cx="391.8" cy="287.9" r="3.2"/>
<circle cx="312.3" cy="410.8" r="3.2"/>
<circle cx="338.4" cy="395.1" r="3.2"/>
<circle cx="425.6" cy="337.9" r="3.2"/>
<circle cx="426.5" cy="280.5" r="3.2"/>
<circle cx="317.8" cy="282.1" r="3.2"/>
<circle cx="323.6" cy="399.7" r="3.2"/>
<circle cx="309.7" cy="303.7" r="3.2"/>
<circle cx="428.4" cy="275.3" r="3.2"/>
<circle cx="399.4" cy="271.8" r="3.2"/>
<circle cx="415.5" cy="335.0" r="3.2"/>
<circle cx="436.4" cy="327.1" r="3.2"/>
<circle cx="350.5" cy="275.9" r="3.2"/>
<circle cx="394.3" cy="285.9" r="3.2"/>
<circle cx="340.4" cy="284.2" r="3.2"/>
<circle cx="316.9" cy="296.7" r="3.2"/>
<circle cx="406.0" cy="362.5" r="3.2"/>
<circle cx="341.2" cy="287.6" r="3.2"/>
<circle cx="405.0" cy="283.3" r="3.2"/>
<circle cx="437.3" cy="280.3" r="3.2"/>
<circle cx="325.6" cy="394.5" r="3.2"/>
<circle cx="322.4" cy="293.3" r="3.2"/>
<circle cx="395.3" cy="374.2" r="3.2"/>
<circle cx="412.8" cy="369.9" r="3.2"/>
<circle cx="350.4" cy="275.8" r="3.2"/>
<circle cx="390.0" cy="394.1" r="3.2"/>
<circle cx="415.8" cy="328.1" r="3.2"/>
<circle cx="339.0" cy="295.8" r="3.2"/>
<circle cx="341.9" cy="395.4" r="3.2"/>
<circle cx="299.2" cy="304.8" r="3.2"/>
<circle cx="391.4" cy="389.5" r="3.2"/>
<circle cx="314.6" cy="304.9" r="3.2"/>
<circle cx="439.2" cy="319.3" r="3.2"/>
<circle cx="321.1" cy="402.6" r="3.2"/>
<circle cx="383.2" cy="403.2" r="3.2"/>
<circle cx="444.2" cy="291.9" r="3.2"/>
<circle cx="418.7" cy="287.6" r="3.2"/>
<circle cx="313.2" cy="411.3" r="3.2"/>
<circle cx="423.8" cy="343.2" r="3.2"/>
<circle cx="345.6" cy="408.7" r="3.2"/>
<circle cx="431.1" cy="340.7" r="3.2"/>
<circle cx="294.2" cy="393.9" r="3.2"/>
<circle cx="405.7" cy="267.5" r="3.2"/>
<circle cx="352.2" cy="397.5" r="3.2"/>
<circle cx="350.7" cy="415.8" r="3.2"/>
<circle cx="297.8" cy="457.4" r="3.2"/>
<circle cx="297.4" cy="398.0" r="3.2"/>
<circle cx="377.7" cy="169.9" r="3.2"/>
<circle cx="371.6" cy="239.1" r="3.2"/>
<circle cx="422.9" cy="145.1" r="3.2"/>
<circle cx="327.4" cy="251.0" r="3.2"/>
<circle cx="327.4" cy="260.5" r="3.2"/>
<circle cx="327.4" cy="273.1" r="3.2"/>
<circle cx="324.9" cy="282.8" r="3.2"/>
<circle cx="298.0" cy="283.2" r="3.2"/>
<circle cx="327.4" cy="291.1" r="3.2"/>
<circle cx="327.4" cy="299.4" r="3.2"/>
<circle cx="313.6" cy="297.0" r="3.2"/>
<circle cx="345.3" cy="263.5" r="3.2"/>
<circle cx="352.1" cy="266.1" r="3.2"/>
<circle cx="342.9" cy="307.5" r="3.2"/>
<circle cx="351.5" cy="306.9" r="3.2"/>
<circle cx="298.0" cy="313.4" r="3.2"/>
<circle cx="325.8" cy="314.1" r="3.2"/>
<circle cx="371.8" cy="256.3" r="3.2"/>
<circle cx="371.8" cy="260.9" r="3.2"/>
<circle cx="371.8" cy="271.8" r="3.2"/>
<circle cx="410.8" cy="247.1" r="3.2"/>
<circle cx="418.7" cy="287.2" r="3.2"/>
<circle cx="418.7" cy="301.6" r="3.2"/>
<circle cx="370.1" cy="302.9" r="3.2"/>
<circle cx="378.7" cy="295.7" r="3.2"/>
<circle cx="374.7" cy="315.4" r="3.2"/>
<circle cx="378.7" cy="314.1" r="3.2"/>
<circle cx="297.6" cy="323.7" r="3.2"/>
<circle cx="297.0" cy="336.8" r="3.2"/>
<circle cx="297.6" cy="348.6" r="3.2"/>
<circle cx="297.6" cy="369.0" r="3.2"/>
<circle cx="297.6" cy="374.9" r="3.2"/>
<circle cx="326.5" cy="329.6" r="3.2"/>
<circle cx="326.5" cy="335.5" r="3.2"/>
<circle cx="326.5" cy="346.0" r="3.2"/>
<circle cx="314.0" cy="368.3" r="3.2"/>
<circle cx="325.9" cy="367.7" r="3.2"/>
<circle cx="327.2" cy="380.1" r="3.2"/>
<circle cx="343.0" cy="346.0" r="3.2"/>
<circle cx="342.3" cy="351.2" r="3.2"/>
<circle cx="352.1" cy="355.8" r="3.2"/>
<circle cx="344.9" cy="374.9" r="3.2"/>
<circle cx="352.1" cy="328.9" r="3.2"/>
<circle cx="358.7" cy="349.3" r="3.2"/>
<circle cx="371.1" cy="315.8" r="3.2"/>
<circle cx="379.0" cy="319.7" r="3.2"/>
<circle cx="362.0" cy="328.2" r="3.2"/>
<circle cx="377.7" cy="326.3" r="3.2"/>
<circle cx="371.1" cy="339.4" r="3.2"/>
<circle cx="377.7" cy="343.4" r="3.2"/>
<circle cx="377.7" cy="347.3" r="3.2"/>
<circle cx="377.7" cy="355.2" r="3.2"/>
<circle cx="377.7" cy="362.4" r="3.2"/>
<circle cx="396.8" cy="309.2" r="3.2"/>
<circle cx="260.7" cy="460.5" r="3.2"/>
<circle cx="261.1" cy="474.7" r="3.2"/>
<circle cx="282.6" cy="402.0" r="3.2"/>
<circle cx="279.7" cy="408.2" r="3.2"/>
<circle cx="282.6" cy="414.1" r="3.2"/>
<circle cx="278.9" cy="421.4" r="3.2"/>
<circle cx="278.9" cy="430.9" r="3.2"/>
<circle cx="282.6" cy="445.5" r="3.2"/>
<circle cx="276.8" cy="466.6" r="3.2"/>
<circle cx="276.8" cy="479.8" r="3.2"/>
<circle cx="278.2" cy="495.5" r="3.2"/>
<circle cx="304.5" cy="500.3" r="3.2"/>
<circle cx="329.7" cy="488.7" r="3.2"/>
<circle cx="306.9" cy="387.3" r="3.2"/>
<circle cx="313.5" cy="396.4" r="3.2"/>
<circle cx="296.7" cy="400.4" r="3.2"/>
<circle cx="302.5" cy="404.1" r="3.2"/>
<circle cx="334.6" cy="385.8" r="3.2"/>
<circle cx="358.0" cy="403.6" r="3.2"/>
<circle cx="335.4" cy="409.9" r="3.2"/>
<circle cx="354.3" cy="413.9" r="3.2"/>
<circle cx="377.0" cy="415.8" r="3.2"/>
<circle cx="381.4" cy="399.0" r="3.2"/>
<circle cx="374.8" cy="383.6" r="3.2"/>
<circle cx="335.8" cy="442.5" r="3.2"/>
<circle cx="357.6" cy="443.8" r="3.2"/>
<circle cx="313.5" cy="464.7" r="3.2"/>
<circle cx="316.0" cy="477.1" r="3.2"/>
<circle cx="285.7" cy="401.2" r="3.2"/>
<circle cx="285.7" cy="415.0" r="3.2"/>
<circle cx="285.7" cy="445.7" r="3.2"/>
<circle cx="401.3" cy="374.4" r="3.2"/>
<circle cx="440.4" cy="375.1" r="3.2"/>
<circle cx="440.7" cy="436.4" r="3.2"/>
<circle cx="441.4" cy="460.5" r="3.2"/>
<circle cx="375.7" cy="375.8" r="3.2"/>
<circle cx="477.3" cy="269.6" r="3.2"/>
<circle cx="477.3" cy="276.3" r="3.2"/>
<circle cx="477.7" cy="299.9" r="3.2"/>
<circle cx="477.7" cy="347.5" r="3.2"/>
<circle cx="333.1" cy="269.4" r="3.2"/>
<circle cx="356.7" cy="285.8" r="3.2"/>
<circle cx="356.7" cy="293.1" r="3.2"/>
<circle cx="401.6" cy="304.9" r="3.2"/>
<circle cx="399.7" cy="308.8" r="3.2"/>
<circle cx="304.8" cy="332.8" r="3.2"/>
<circle cx="304.8" cy="339.4" r="3.2"/>
<circle cx="304.8" cy="346.0" r="3.2"/>
<circle cx="303.5" cy="359.1" r="3.2"/>
<circle cx="305.5" cy="371.0" r="3.2"/>
<circle cx="314.0" cy="350.6" r="3.2"/>
<circle cx="333.8" cy="353.9" r="3.2"/>
<circle cx="333.8" cy="358.5" r="3.2"/>
<circle cx="333.1" cy="370.3" r="3.2"/>
<circle cx="333.8" cy="382.1" r="3.2"/>
<circle cx="357.4" cy="335.5" r="3.2"/>
<circle cx="358.7" cy="339.4" r="3.2"/>
<circle cx="401.4" cy="310.5" r="3.2"/>
<circle cx="401.4" cy="323.0" r="3.2"/>
<circle cx="401.4" cy="343.4" r="3.2"/>
<circle cx="373.8" cy="374.2" r="3.2"/>
<circle cx="381.0" cy="334.8" r="3.2"/>
<rect x="208.8" y="327.0" width="6" height="6"/>
<rect x="248.9" y="343.4" width="6" height="6"/>
<rect x="221.9" y="421.3" width="6" height="6"/>
<rect x="265.0" y="456.0" width="6" height="6"/>
<rect x="363.0" y="414.7" width="6" height="6"/>
<rect x="360.8" y="414.7" width="6" height="6"/>
<rect x="412.9" y="372.8" width="6" height="6"/>
<rect x="466.9" y="372.1" width="6" height="6"/>
<rect x="516.7" y="157.2" width="6" height="6"/>
<rect x="525.1" y="160.9" width="6" height="6"/>
<rect x="463.6" y="157.7" width="6" height="6"/>
<rect x="516.7" y="203.0" width="6" height="6"/>
<rect x="525.1" y="202.3" width="6" height="6"/>
<rect x="529.0" y="219.7" width="6" height="6"/>
<rect x="556.1" y="238.6" width="6" height="6"/>
<rect x="315.7" y="183.0" width="6" height="6"/>
<rect x="363.4" y="225.6" width="6" height="6"/>
<rect x="377.7" y="235.3" width="6" height="6"/>
<rect x="396.6" y="218.6" width="6" height="6"/>
<rect x="320.2" y="255.6" width="6" height="6"/>
<rect x="325.5" y="257.5" width="6" height="6"/>
<rect x="324.8" y="276.3" width="6" height="6"/>
<rect x="412.4" y="251.3" width="6" height="6"/>
<rect x="294.4" y="387.0" width="6" height="6"/>
<rect x="297.5" y="262.7" width="6" height="6"/>
<rect x="309.7" y="268.8" width="6" height="6"/>
<rect x="368.4" y="284.8" width="6" height="6"/>
<rect x="368.4" y="291.4" width="6" height="6"/>
<rect x="386.8" y="288.8" width="6" height="6"/>
<rect x="386.8" y="295.3" width="6" height="6"/>
<rect x="357.6" y="344.3" width="6" height="6"/>
<rect x="374.7" y="329.0" width="6" height="6"/>
<rect x="374.7" y="335.0" width="6" height="6"/>
<rect x="374.7" y="348.0" width="6" height="6"/>
<rect x="336.0" y="389.4" width="6" height="6"/>
<rect x="332.4" y="414.2" width="6" height="6"/>
<rect x="401.0" y="328.5" width="6" height="6"/>
<rect x="401.0" y="352.8" width="6" height="6"/>
</g>
<g fill="rgba(240,203,22,0.82)">
<circle cx="352.2" cy="397.5" r="5.1"/>
<circle cx="350.7" cy="415.8" r="5.1"/>
<circle cx="297.8" cy="457.4" r="5.1"/>
<circle cx="297.4" cy="398.0" r="5.1"/>
<circle cx="377.7" cy="169.9" r="5.1"/>
<circle cx="371.6" cy="239.1" r="5.1"/>
<circle cx="422.9" cy="145.1" r="5.1"/>
<circle cx="327.4" cy="251.0" r="5.1"/>
<circle cx="327.4" cy="260.5" r="5.1"/>
<circle cx="327.4" cy="273.1" r="5.1"/>
<circle cx="324.9" cy="282.8" r="5.1"/>
<circle cx="298.0" cy="283.2" r="5.1"/>
<circle cx="327.4" cy="291.1" r="5.1"/>
<circle cx="327.4" cy="299.4" r="5.1"/>
<circle cx="313.6" cy="297.0" r="5.1"/>
<circle cx="345.3" cy="263.5" r="5.1"/>
<circle cx="352.1" cy="266.1" r="5.1"/>
<circle cx="342.9" cy="307.5" r="5.1"/>
<circle cx="351.5" cy="306.9" r="5.1"/>
<circle cx="298.0" cy="313.4" r="5.1"/>
<circle cx="325.8" cy="314.1" r="5.1"/>
<circle cx="371.8" cy="256.3" r="5.1"/>
<circle cx="371.8" cy="260.9" r="5.1"/>
<circle cx="371.8" cy="271.8" r="5.1"/>
<circle cx="410.8" cy="247.1" r="5.1"/>
<circle cx="418.7" cy="287.2" r="5.1"/>
<circle cx="418.7" cy="301.6" r="5.1"/>
<circle cx="370.1" cy="302.9" r="5.1"/>
<circle cx="378.7" cy="295.7" r="5.1"/>
<circle cx="374.7" cy="315.4" r="5.1"/>
<circle cx="378.7" cy="314.1" r="5.1"/>
<circle cx="297.6" cy="323.7" r="5.1"/>
<circle cx="297.0" cy="336.8" r="5.1"/>
<circle cx="297.6" cy="348.6" r="5.1"/>
<circle cx="297.6" cy="369.0" r="5.1"/>
<circle cx="297.6" cy="374.9" r="5.1"/>
<circle cx="326.5" cy="329.6" r="5.1"/>
<circle cx="326.5" cy="335.5" r="5.1"/>
<circle cx="326.5" cy="346.0" r="5.1"/>
<circle cx="314.0" cy="368.3" r="5.1"/>
<circle cx="325.9" cy="367.7" r="5.1"/>
<circle cx="327.2" cy="380.1" r="5.1"/>
<circle cx="343.0" cy="346.0" r="5.1"/>
<circle cx="342.3" cy="351.2" r="5.1"/>
<circle cx="352.1" cy="355.8" r="5.1"/>
<circle cx="344.9" cy="374.9" r="5.1"/>
<circle cx="352.1" cy="328.9" r="5.1"/>
<circle cx="358.7" cy="349.3" r="5.1"/>
<circle cx="371.1" cy="315.8" r="5.1"/>
<circle cx="379.0" cy="319.7" r="5.1"/>
<circle cx="362.0" cy="328.2" r="5.1"/>
<circle cx="377.7" cy="326.3" r="5.1"/>
<circle cx="371.1" cy="339.4" r="5.1"/>
<circle cx="377.7" cy="343.4" r="5.1"/>
<circle cx="377.7" cy="347.3" r="5.1"/>
<circle cx="377.7" cy="355.2" r="5.1"/>
<circle cx="377.7" cy="362.4" r="5.1"/>
<circle cx="396.8" cy="309.2" r="5.1"/>
<rect x="292.6" y="385.2" width="9.6" height="9.6"/>
<rect x="295.7" y="260.9" width="9.6" height="9.6"/>
<rect x="307.9" y="267.0" width="9.6" height="9.6"/>
<rect x="366.6" y="283.0" width="9.6" height="9.6"/>
<rect x="366.6" y="289.6" width="9.6" height="9.6"/>
<rect x="385.0" y="287.0" width="9.6" height="9.6"/>
<rect x="385.0" y="293.5" width="9.6" height="9.6"/>
<rect x="355.8" y="342.5" width="9.6" height="9.6"/>
<rect x="372.9" y="327.2" width="9.6" height="9.6"/>
<rect x="372.9" y="333.2" width="9.6" height="9.6"/>
<rect x="372.9" y="346.2" width="9.6" height="9.6"/>
</g>
<g fill="rgba(208,86,172,0.82)">
<circle cx="260.7" cy="460.5" r="5.1"/>
<circle cx="261.1" cy="474.7" r="5.1"/>
<circle cx="282.6" cy="402.0" r="5.1"/>
<circle cx="279.7" cy="408.2" r="5.1"/>
<circle cx="282.6" cy="414.1" r="5.1"/>
<circle cx="278.9" cy="421.4" r="5.1"/>
<circle cx="278.9" cy="430.9" r="5.1"/>
<circle cx="282.6" cy="445.5" r="5.1"/>
<circle cx="276.8" cy="466.6" r="5.1"/>
<circle cx="276.8" cy="479.8" r="5.1"/>
<circle cx="278.2" cy="495.5" r="5.1"/>
<circle cx="304.5" cy="500.3" r="5.1"/>
<circle cx="329.7" cy="488.7" r="5.1"/>
<circle cx="306.9" cy="387.3" r="5.1"/>
<circle cx="313.5" cy="396.4" r="5.1"/>
<circle cx="296.7" cy="400.4" r="5.1"/>
<circle cx="302.5" cy="404.1" r="5.1"/>
<circle cx="334.6" cy="385.8" r="5.1"/>
<circle cx="358.0" cy="403.6" r="5.1"/>
<circle cx="335.4" cy="409.9" r="5.1"/>
<circle cx="354.3" cy="413.9" r="5.1"/>
<circle cx="377.0" cy="415.8" r="5.1"/>
<circle cx="381.4" cy="399.0" r="5.1"/>
<circle cx="374.8" cy="383.6" r="5.1"/>
<circle cx="335.8" cy="442.5" r="5.1"/>
<circle cx="357.6" cy="443.8" r="5.1"/>
<circle cx="313.5" cy="464.7" r="5.1"/>
<circle cx="316.0" cy="477.1" r="5.1"/>
<circle cx="285.7" cy="401.2" r="5.1"/>
<circle cx="285.7" cy="415.0" r="5.1"/>
<circle cx="285.7" cy="445.7" r="5.1"/>
<circle cx="401.3" cy="374.4" r="5.1"/>
<circle cx="440.4" cy="375.1" r="5.1"/>
<circle cx="440.7" cy="436.4" r="5.1"/>
<circle cx="441.4" cy="460.5" r="5.1"/>
<circle cx="375.7" cy="375.8" r="5.1"/>
<circle cx="477.3" cy="269.6" r="5.1"/>
<circle cx="477.3" cy="276.3" r="5.1"/>
<circle cx="477.7" cy="299.9" r="5.1"/>
<circle cx="477.7" cy="347.5" r="5.1"/>
<circle cx="333.1" cy="269.4" r="5.1"/>
<circle cx="356.7" cy="285.8" r="5.1"/>
<circle cx="356.7" cy="293.1" r="5.1"/>
<circle cx="401.6" cy="304.9" r="5.1"/>
<circle cx="399.7" cy="308.8" r="5.1"/>
<circle cx="304.8" cy="332.8" r="5.1"/>
<circle cx="304.8" cy="339.4" r="5.1"/>
<circle cx="304.8" cy="346.0" r="5.1"/>
<circle cx="303.5" cy="359.1" r="5.1"/>
<circle cx="305.5" cy="371.0" r="5.1"/>
<circle cx="314.0" cy="350.6" r="5.1"/>
<circle cx="333.8" cy="353.9" r="5.1"/>
<circle cx="333.8" cy="358.5" r="5.1"/>
<circle cx="333.1" cy="370.3" r="5.1"/>
<circle cx="333.8" cy="382.1" r="5.1"/>
<circle cx="357.4" cy="335.5" r="5.1"/>
<circle cx="358.7" cy="339.4" r="5.1"/>
<circle cx="401.4" cy="310.5" r="5.1"/>
<circle cx="401.4" cy="323.0" r="5.1"/>
<circle cx="401.4" cy="343.4" r="5.1"/>
<circle cx="373.8" cy="374.2" r="5.1"/>
<circle cx="381.0" cy="334.8" r="5.1"/>
<rect x="334.2" y="387.6" width="9.6" height="9.6"/>
<rect x="330.6" y="412.4" width="9.6" height="9.6"/>
<rect x="399.2" y="326.7" width="9.6" height="9.6"/>
<rect x="399.2" y="351.0" width="9.6" height="9.6"/>
</g>
<g fill="rgba(0,0,0,0.5)">
<circle cx="354.9" cy="376.9" r="3.2"/>
<circle cx="314.6" cy="317.1" r="3.2"/>
<circle cx="354.0" cy="370.0" r="3.2"/>
<circle cx="391.2" cy="353.8" r="3.2"/>
<circle cx="335.3" cy="336.1" r="3.2"/>
<circle cx="332.7" cy="363.6" r="3.2"/>
<circle cx="381.6" cy="384.1" r="3.2"/>
<circle cx="395.1" cy="311.8" r="3.2"/>
<circle cx="317.6" cy="376.8" r="3.2"/>
<circle cx="315.6" cy="385.1" r="3.2"/>
<circle cx="376.2" cy="384.5" r="3.2"/>
<circle cx="321.1" cy="341.9" r="3.2"/>
<circle cx="319.6" cy="337.7" r="3.2"/>
<circle cx="394.8" cy="296.9" r="3.2"/>
<circle cx="381.6" cy="345.7" r="3.2"/>
<circle cx="374.5" cy="364.3" r="3.2"/>
<circle cx="390.2" cy="337.1" r="3.2"/>
<circle cx="396.2" cy="349.6" r="3.2"/>
<circle cx="332.2" cy="311.2" r="3.2"/>
<circle cx="384.1" cy="302.7" r="3.2"/>
<circle cx="425.7" cy="308.1" r="3.2"/>
<circle cx="358.4" cy="324.9" r="3.2"/>
<circle cx="311.6" cy="377.6" r="3.2"/>
<circle cx="348.5" cy="328.5" r="3.2"/>
<circle cx="365.5" cy="357.3" r="3.2"/>
<circle cx="368.0" cy="362.5" r="3.2"/>
<circle cx="384.7" cy="370.7" r="3.2"/>
<circle cx="329.2" cy="386.1" r="3.2"/>
<circle cx="383.3" cy="364.2" r="3.2"/>
<circle cx="364.4" cy="313.5" r="3.2"/>
<circle cx="400.7" cy="299.0" r="3.2"/>
<circle cx="381.1" cy="361.7" r="3.2"/>
<circle cx="410.7" cy="324.1" r="3.2"/>
<circle cx="331.2" cy="319.3" r="3.2"/>
<circle cx="318.5" cy="382.5" r="3.2"/>
<circle cx="375.5" cy="327.3" r="3.2"/>
<circle cx="361.6" cy="376.1" r="3.2"/>
<circle cx="385.3" cy="315.1" r="3.2"/>
<circle cx="351.0" cy="349.5" r="3.2"/>
<circle cx="352.9" cy="323.0" r="3.2"/>
<circle cx="367.8" cy="386.6" r="3.2"/>
<circle cx="378.3" cy="349.5" r="3.2"/>
<circle cx="407.3" cy="309.2" r="3.2"/>
<circle cx="339.5" cy="324.7" r="3.2"/>
<circle cx="304.5" cy="383.0" r="3.2"/>
<circle cx="372.2" cy="338.2" r="3.2"/>
<circle cx="374.4" cy="325.5" r="3.2"/>
<circle cx="312.3" cy="387.0" r="3.2"/>
<circle cx="391.4" cy="367.9" r="3.2"/>
<circle cx="344.5" cy="364.8" r="3.2"/>
<circle cx="386.7" cy="368.5" r="3.2"/>
<circle cx="342.0" cy="313.7" r="3.2"/>
<circle cx="374.9" cy="369.2" r="3.2"/>
<circle cx="401.7" cy="364.3" r="3.2"/>
<circle cx="384.0" cy="339.9" r="3.2"/>
<circle cx="334.8" cy="334.6" r="3.2"/>
<circle cx="355.1" cy="313.4" r="3.2"/>
<circle cx="382.8" cy="296.5" r="3.2"/>
<circle cx="372.4" cy="321.2" r="3.2"/>
<circle cx="360.6" cy="309.3" r="3.2"/>
<circle cx="408.9" cy="335.0" r="3.2"/>
<circle cx="365.5" cy="321.9" r="3.2"/>
<circle cx="385.7" cy="373.4" r="3.2"/>
<circle cx="298.6" cy="362.7" r="3.2"/>
<circle cx="394.1" cy="296.1" r="3.2"/>
<circle cx="300.0" cy="359.4" r="3.2"/>
<circle cx="320.2" cy="380.2" r="3.2"/>
<circle cx="363.2" cy="300.9" r="3.2"/>
<circle cx="346.7" cy="358.8" r="3.2"/>
<circle cx="374.0" cy="323.9" r="3.2"/>
<circle cx="378.6" cy="325.6" r="3.2"/>
<circle cx="303.7" cy="377.5" r="3.2"/>
<circle cx="361.9" cy="353.3" r="3.2"/>
<circle cx="351.9" cy="346.2" r="3.2"/>
<circle cx="312.2" cy="357.6" r="3.2"/>
<circle cx="403.5" cy="310.5" r="3.2"/>
<circle cx="367.6" cy="297.0" r="3.2"/>
<circle cx="374.0" cy="320.9" r="3.2"/>
<circle cx="387.7" cy="333.9" r="3.2"/>
<circle cx="388.7" cy="324.6" r="3.2"/>
<circle cx="332.4" cy="307.3" r="3.2"/>
<circle cx="418.1" cy="300.7" r="3.2"/>
<circle cx="374.6" cy="308.7" r="3.2"/>
<circle cx="347.2" cy="311.2" r="3.2"/>
<circle cx="314.2" cy="365.7" r="3.2"/>
<circle cx="349.1" cy="369.4" r="3.2"/>
<circle cx="306.2" cy="381.4" r="3.2"/>
<circle cx="331.6" cy="375.9" r="3.2"/>
<circle cx="392.2" cy="305.2" r="3.2"/>
<circle cx="331.4" cy="336.8" r="3.2"/>
<circle cx="369.1" cy="301.9" r="3.2"/>
<circle cx="356.0" cy="345.0" r="3.2"/>
<circle cx="370.7" cy="386.5" r="3.2"/>
<circle cx="325.0" cy="365.3" r="3.2"/>
<circle cx="337.6" cy="371.4" r="3.2"/>
<circle cx="312.6" cy="317.3" r="3.2"/>
<circle cx="358.6" cy="340.3" r="3.2"/>
<circle cx="319.0" cy="323.7" r="3.2"/>
<circle cx="353.1" cy="373.0" r="3.2"/>
<circle cx="311.4" cy="311.9" r="3.2"/>
<circle cx="401.3" cy="327.0" r="3.2"/>
<circle cx="323.6" cy="323.1" r="3.2"/>
<circle cx="357.4" cy="377.8" r="3.2"/>
<circle cx="392.7" cy="320.8" r="3.2"/>
<circle cx="379.5" cy="316.0" r="3.2"/>
<circle cx="334.2" cy="371.4" r="3.2"/>
<circle cx="374.1" cy="325.8" r="3.2"/>
<circle cx="339.7" cy="317.4" r="3.2"/>
<circle cx="383.5" cy="312.8" r="3.2"/>
<circle cx="346.3" cy="315.4" r="3.2"/>
<circle cx="443.1" cy="293.7" r="3.2"/>
<circle cx="422.8" cy="305.9" r="3.2"/>
<circle cx="375.1" cy="287.7" r="3.2"/>
<circle cx="347.3" cy="289.3" r="3.2"/>
<circle cx="418.4" cy="272.5" r="3.2"/>
<circle cx="350.1" cy="307.2" r="3.2"/>
<circle cx="333.1" cy="294.1" r="3.2"/>
<circle cx="314.9" cy="304.9" r="3.2"/>
<circle cx="413.3" cy="272.4" r="3.2"/>
<circle cx="407.6" cy="309.8" r="3.2"/>
<circle cx="427.8" cy="292.6" r="3.2"/>
<circle cx="353.0" cy="281.8" r="3.2"/>
<circle cx="408.0" cy="291.4" r="3.2"/>
<circle cx="392.7" cy="284.7" r="3.2"/>
<circle cx="436.9" cy="284.3" r="3.2"/>
<circle cx="413.0" cy="285.2" r="3.2"/>
<circle cx="407.7" cy="308.7" r="3.2"/>
<circle cx="289.8" cy="389.4" r="3.2"/>
<circle cx="378.0" cy="385.1" r="3.2"/>
<circle cx="334.4" cy="401.6" r="3.2"/>
<circle cx="319.9" cy="394.2" r="3.2"/>
<circle cx="321.0" cy="388.6" r="3.2"/>
<circle cx="351.2" cy="396.6" r="3.2"/>
<circle cx="342.9" cy="401.4" r="3.2"/>
<circle cx="332.2" cy="399.3" r="3.2"/>
<circle cx="302.1" cy="388.5" r="3.2"/>
<circle cx="349.5" cy="398.4" r="3.2"/>
<circle cx="407.2" cy="285.7" r="3.2"/>
<circle cx="412.6" cy="359.6" r="3.2"/>
<circle cx="332.5" cy="295.3" r="3.2"/>
<circle cx="431.8" cy="313.3" r="3.2"/>
<circle cx="363.0" cy="398.5" r="3.2"/>
<circle cx="375.0" cy="277.1" r="3.2"/>
<circle cx="365.8" cy="402.7" r="3.2"/>
<circle cx="364.3" cy="405.5" r="3.2"/>
<circle cx="297.2" cy="360.6" r="3.2"/>
</g>
<g>
<rect x="81.20" y="72.60" width="552.40" height="236.14" fill="#800080" fill-opacity="0.15"/>
<rect x="81.20" y="383.46" width="552.40" height="236.14" fill="#008000" fill-opacity="0.15"/>
<rect x="81.20" y="72.60" width="193.75" height="547.00" fill="#008000" fill-opacity="0.15"/>
<rect x="444.55" y="72.60" width="189.05" height="547.00" fill="#800080" fill-opacity="0.15"/>
</g>
<g stroke="#1c1c1c" stroke-width="1.75" stroke-dasharray="4.8 2.35" fill="none">
<line x1="274.95" y1="45.0" x2="274.95" y2="647"/>
<line x1="444.55" y1="45.0" x2="444.55" y2="647"/>
<line x1="53.9" y1="309.04" x2="660" y2="309.04"/>
<line x1="53.9" y1="383.46" x2="660" y2="383.46"/>
</g>
<line x1="53.9" y1="45.5" x2="53.9" y2="647" stroke="#858585" stroke-width="1.5"/>
<line x1="53.2" y1="45.5" x2="660.3" y2="45.5" stroke="#333" stroke-width="1.1"/>
<line x1="660.4" y1="45" x2="660.4" y2="647" stroke="#3a3a3a" stroke-width="1.15"/>
<line x1="53.2" y1="646.6" x2="660.8" y2="646.6" stroke="#444" stroke-width="1.3"/>
<line x1="50.8" y1="644.98" x2="54" y2="644.98" stroke="#555" stroke-width="1"/>
<text x="46.4" y="646.88" font-size="16.5" text-anchor="end" fill="#000">-8</text>
<line x1="50.8" y1="570.26" x2="54" y2="570.26" stroke="#555" stroke-width="1"/>
<text x="46.4" y="576.16" font-size="16.5" text-anchor="end" fill="#000">-6</text>
<line x1="50.8" y1="495.54" x2="54" y2="495.54" stroke="#555" stroke-width="1"/>
<text x="46.4" y="501.44" font-size="16.5" text-anchor="end" fill="#000">-4</text>
<line x1="50.8" y1="420.82" x2="54" y2="420.82" stroke="#555" stroke-width="1"/>
<text x="46.4" y="426.72" font-size="16.5" text-anchor="end" fill="#000">-2</text>
<line x1="50.8" y1="346.10" x2="54" y2="346.10" stroke="#555" stroke-width="1"/>
<text x="46.4" y="352.00" font-size="16.5" text-anchor="end" fill="#000">0</text>
<line x1="50.8" y1="271.38" x2="54" y2="271.38" stroke="#555" stroke-width="1"/>
<text x="46.4" y="277.28" font-size="16.5" text-anchor="end" fill="#000">2</text>
<line x1="50.8" y1="196.66" x2="54" y2="196.66" stroke="#555" stroke-width="1"/>
<text x="46.4" y="202.56" font-size="16.5" text-anchor="end" fill="#000">4</text>
<line x1="50.8" y1="121.94" x2="54" y2="121.94" stroke="#555" stroke-width="1"/>
<text x="46.4" y="127.84" font-size="16.5" text-anchor="end" fill="#000">6</text>
<line x1="50.8" y1="47.22" x2="54" y2="47.22" stroke="#555" stroke-width="1"/>
<text x="46.4" y="53.12" font-size="16.5" text-anchor="end" fill="#000">8</text>
<line x1="105.35" y1="646.6" x2="105.35" y2="649.8" stroke="#555" stroke-width="1"/>
<text x="105.35" y="663.5" font-size="16.5" text-anchor="middle" fill="#000">-3</text>
<line x1="190.15" y1="646.6" x2="190.15" y2="649.8" stroke="#555" stroke-width="1"/>
<text x="190.15" y="663.5" font-size="16.5" text-anchor="middle" fill="#000">-2</text>
<line x1="274.95" y1="646.6" x2="274.95" y2="649.8" stroke="#555" stroke-width="1"/>
<text x="274.95" y="663.5" font-size="16.5" text-anchor="middle" fill="#000">-1</text>
<line x1="359.75" y1="646.6" x2="359.75" y2="649.8" stroke="#555" stroke-width="1"/>
<text x="359.75" y="663.5" font-size="16.5" text-anchor="middle" fill="#000">0</text>
<line x1="444.55" y1="646.6" x2="444.55" y2="649.8" stroke="#555" stroke-width="1"/>
<text x="444.55" y="663.5" font-size="16.5" text-anchor="middle" fill="#000">1</text>
<line x1="529.35" y1="646.6" x2="529.35" y2="649.8" stroke="#555" stroke-width="1"/>
<text x="529.35" y="663.5" font-size="16.5" text-anchor="middle" fill="#000">2</text>
<line x1="614.15" y1="646.6" x2="614.15" y2="649.8" stroke="#555" stroke-width="1"/>
<text x="614.15" y="663.5" font-size="16.5" text-anchor="middle" fill="#000">3</text>
<text x="355" y="689" font-size="16.5" text-anchor="middle">Global Log2fx (HCT/HEK)</text>
<text transform="translate(25.3,343.9) rotate(-90)" font-size="16.5" text-anchor="middle">Phospho Log2fx (HCT/HEK)</text>
<text x="-0.4" y="22.8" font-size="32.6" font-weight="bold">A</text>
<text x="-1.9" y="714" font-size="31.6" font-weight="bold">B</text>
<text x="179.40" y="29.10" font-size="20.6" text-anchor="middle">g<tspan fill="#2ca57f">HEK</tspan></text>
<text x="360.90" y="29.10" font-size="20.6" text-anchor="middle">g<tspan fill="#9b99ab">NS</tspan></text>
<text x="552.40" y="29.10" font-size="20.6" text-anchor="middle">g<tspan fill="#7a6cc0">HCT</tspan></text>
<text transform="translate(670.30,193.80) rotate(90)" font-size="20.7" text-anchor="middle">ph<tspan fill="#7a6cc0">HCT</tspan></text>
<text transform="translate(670.30,346.30) rotate(90)" font-size="20.7" text-anchor="middle">ph<tspan fill="#9b99ab">NS</tspan></text>
<text transform="translate(670.30,489.00) rotate(90)" font-size="20.7" text-anchor="middle">ph<tspan fill="#2ca57f">HEK</tspan></text>
<rect x="479.4" y="432.9" width="149.4" height="180.2" fill="#cbc9cc" stroke="#555" stroke-width="1"/>
<text x="493.7" y="461" font-size="15.8">Assembly State</text>
<circle cx="501" cy="482.6" r="7.4" fill="#676569"/>
<text x="518.3" y="487.5" font-size="15.8">complex</text>
<rect x="493.6" y="497.7" width="14.9" height="14.9" fill="#676569"/>
<text x="518.3" y="510.5" font-size="15.8">monomer</text>
<text x="493.2" y="543.1" font-size="15.8">Pathway</text>
<circle cx="500.3" cy="562.7" r="6.5" fill="#e8c22c"/>
<text x="513.3" y="568.4" font-size="15.8">mTOR_related</text>
<circle cx="500.3" cy="588.3" r="6.5" fill="#d06cb0"/>
<text x="513.3" y="591.7" font-size="15.8">p53_related</text>
<text x="371.7" y="725.7" font-size="22.4" text-anchor="middle"># of Proteins with Peaks in Each Group:</text>
<text x="232.70" y="749.60" font-size="16" text-anchor="middle">g<tspan fill="#2ca57f">HEK</tspan></text>
<text x="363.20" y="749.60" font-size="16" text-anchor="middle">g<tspan fill="#9b99ab">NS</tspan></text>
<text x="495.40" y="749.60" font-size="16" text-anchor="middle">g<tspan fill="#7a6cc0">HCT</tspan></text>
<rect x="161.80" y="760.80" width="138.30" height="61.90" fill="#dee0dd"/>
<rect x="300.10" y="760.80" width="124.70" height="61.90" fill="#ecdaec"/>
<rect x="424.80" y="760.80" width="136.70" height="61.90" fill="#dcb7dc"/>
<rect x="161.80" y="822.70" width="138.30" height="57.30" fill="#daecd9"/>
<rect x="300.10" y="822.70" width="124.70" height="57.30" fill="#ffffff"/>
<rect x="424.80" y="822.70" width="136.70" height="57.30" fill="#ecdaec"/>
<rect x="161.80" y="880.00" width="138.30" height="65.30" fill="#b9ddb8"/>
<rect x="300.10" y="880.00" width="124.70" height="65.30" fill="#daecd9"/>
<rect x="424.80" y="880.00" width="136.70" height="65.30" fill="#dee0dd"/>
<text x="232.35" y="795.20" font-size="18" text-anchor="middle" fill="#8b4513">Group A: 2</text>
<text x="363.85" y="795.20" font-size="18" text-anchor="middle" fill="#8b4513">Group B: 305</text>
<text x="494.55" y="795.20" font-size="18" text-anchor="middle" fill="#8b4513">Group C: 67</text>
<text x="232.35" y="855.40" font-size="18" text-anchor="middle" fill="#8b4513">Group D: 38</text>
<text x="363.85" y="855.40" font-size="18" text-anchor="middle" fill="#8b4513">Group E: 781</text>
<text x="494.55" y="855.40" font-size="18" text-anchor="middle" fill="#8b4513">Group F: 31</text>
<text x="232.35" y="914.40" font-size="18" text-anchor="middle" fill="#8b4513">Group G: 45</text>
<text x="363.85" y="914.40" font-size="18" text-anchor="middle" fill="#8b4513">Group H: 224</text>
<text x="494.55" y="914.40" font-size="18" text-anchor="middle" fill="#8b4513">Group I: 2</text>
<g stroke="#86421a" stroke-width="1.7" stroke-linecap="square" fill="none">
<line x1="161.80" y1="760.80" x2="161.80" y2="945.30"/>
<line x1="300.10" y1="760.80" x2="300.10" y2="945.30"/>
<line x1="424.80" y1="760.80" x2="424.80" y2="945.30"/>
<line x1="561.50" y1="760.80" x2="561.50" y2="945.30"/>
<line x1="161.80" y1="760.80" x2="561.50" y2="760.80"/>
<line x1="161.80" y1="822.70" x2="561.50" y2="822.70"/>
<line x1="161.80" y1="880.00" x2="561.50" y2="880.00"/>
<line x1="161.80" y1="945.30" x2="561.50" y2="945.30"/>
</g>
<text transform="translate(572.30,791.00) rotate(90)" font-size="16" text-anchor="middle">ph<tspan fill="#7a6cc0">HCT</tspan></text>
<text transform="translate(572.30,851.50) rotate(90)" font-size="16" text-anchor="middle">ph<tspan fill="#9b99ab">NS</tspan></text>
<text transform="translate(572.30,916.00) rotate(90)" font-size="16" text-anchor="middle">ph<tspan fill="#2ca57f">HEK</tspan></text>
</svg></body></html>
